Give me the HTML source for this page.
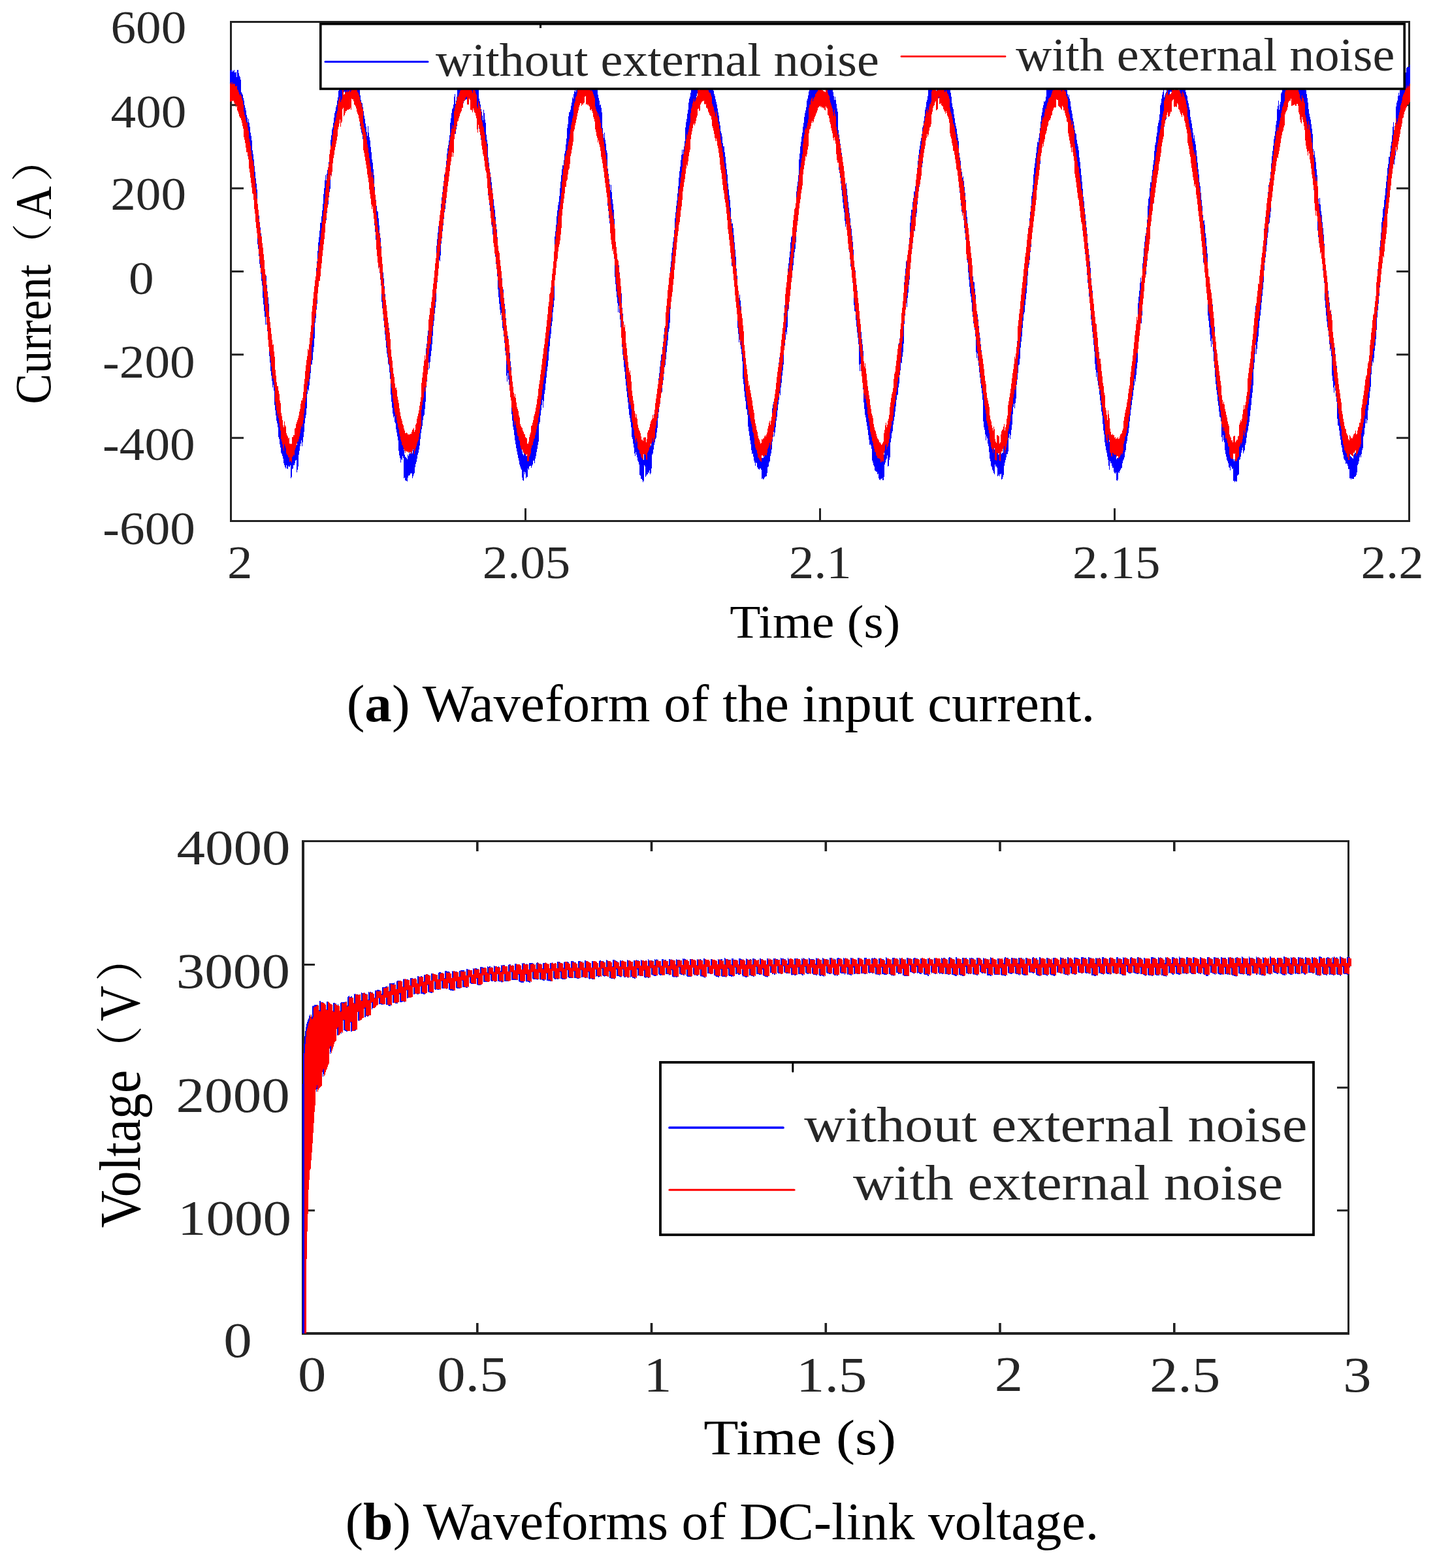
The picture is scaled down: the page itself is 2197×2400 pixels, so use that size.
<!DOCTYPE html><html><head><meta charset="utf-8"><title>figure</title><style>html,body{margin:0;padding:0;background:#fff;overflow:hidden;width:2197px;height:2400px;}svg{display:block}</style></head><body>
<svg width="2197" height="2400" viewBox="0 0 2197 2400">
<rect width="2197" height="2400" fill="#fff"/>
<path fill="#222" d="M352 32H2159V35H352zM352 796H2159V799H352zM352 32H355V799H352zM2156 32H2159V799H2156zM355 668.7H373V671.7H355zM2138 668.7H2156V671.7H2138zM355 541.3H373V544.3H355zM2138 541.3H2156V544.3H2138zM355 414H373V417H355zM2138 414H2156V417H2138zM355 286.7H373V289.7H355zM2138 286.7H2156V289.7H2138zM355 159.3H373V162.3H355zM2138 159.3H2156V162.3H2138zM803 778H806V796H803zM803 35H806V53H803zM1254 778H1257V796H1254zM1254 35H1257V53H1254zM1705 778H1708V796H1705zM1705 35H1708V53H1705zM462 1286H2066V1289H462zM462 2039H2066V2043H462zM462 1286H466V2043H462zM2063 1286H2066V2043H2063zM466 1851.3H482V1854.3H466zM2047 1851.3H2063V1854.3H2047zM466 1663.2H482V1666.2H466zM2047 1663.2H2063V1666.2H2047zM466 1475H482V1478H466zM2047 1475H2063V1478H2047zM729 2025H732.6V2039H729zM729 1289H732.6V1303H729zM995.7 2025H999.3V2039H995.7zM995.7 1289H999.3V1303H995.7zM1262.5 2025H1266.1V2039H1262.5zM1262.5 1289H1266.1V1303H1262.5zM1529.2 2025H1532.8V2039H1529.2zM1529.2 1289H1532.8V1303H1529.2zM1796 2025H1799.6V2039H1796zM1796 1289H1799.6V1303H1796z"/>
<path fill="#0000ff" d="M352.0 108h1v-1h2v3h1v-2h1v1h1v-2h1v4h2v-1h1v8h1v-11h2v5h1v4h1v2h1v4h1v19h1v2h1v2h1v5h1v4h1v7h1v4h1v4h1v7h1v4h1v7h1v-5h1v6h1v6h1v9h1v5h1v7h1v15h1v6h1v8h1v10h1v9h1v10h1v8h1v9h1v22h1v12h1v6h1v10h1v8h1v9h1v11h1v7h1v15h1v14h1v9h1v11h1v10h1v-12h1v14h1v10h1v9h1v10h1v20h1v12h1v11h1v9h1v8h1v10h1v-2h1v6h1v24h1v7h1v12h1v5h1v10h1v7h1v11h1v9h1v8h1v7h1v6h1v7h1v3h1v6h1v3h1v6h1v3h1v5h1v-2h1v2h1v1h1v-2h1v2h2v2h1v16h1v-1h1v-11h1v-4h1v-5h1v-2h1v-4h1v-4h1v-5h1v20h1v-7h1v-4h1v-18h1v-9h1v-5h1v-5h1v-9h1v12h1v-8h1v-9h1v-11h1v-10h1v-12h1v-7h1v-7h1v-25h1v-9h1v1h1v-10h1v-10h1v-11h1v-7h1v-4h1v-9h1v-11h1v-11h1v-11h1v-21h1v-11h1v-13h1v-10h1v-16h1v-13h1v-8h1v-10h1v-12h2v-10h1v-9h1v-10h1v-15h1v-9h1v-12h1v-8h1v8h1v-10h1v-6h1v-4h1v-8h1v-8h1v-10h1v-16h1v-7h1v-9h1v-3h1v-7h1v-8h1v-7h1v-3h1v-6h1v-3h1v-7h1v-5h1v-10h1v-4h1v-5h1v-4h1v-2h1v-5h1v-6h1v-6h1v-3h1v-2h1v21h1v-5h1v2h1v-2h1v-10h1v-1h1v4h1v-2h2v-1h1v-7h2v3h1v10h1v-1h1v4h1v2h1v-12h1v3h1v3h2v5h1v5h1v23h1v7h1v4h1v1h1v6h1v6h1v7h1v5h1v7h1v5h1v8h1v6h1v-15h1v10h1v7h1v5h1v10h1v8h1v11h1v5h1v10h1v9h1v18h1v12h1v8h1v9h1v8h1v1h1v10h1v11h1v12h1v7h1v13h1v22h1v9h1v9h1v9h1v12h1v12h1v11h1v7h1v10h1v9h1v7h1v8h1v10h1v9h1v29h1v7h1v11h1v7h1v10h1v-4h1v9h1v7h1v8h1v5h1v9h1v9h1v18h1v3h1v7h1v8h1v-6h1v5h1v-4h1v2h1v28h1v7h1v3h1v1h1v1h1v2h1v-7h1v2h1v-3h1v-3h1v2h1v-5h2v5h1v-5h1v-2h1v-2h1v-13h1v-6h1v-3h1v-6h1v-5h1v-6h1v-6h1v-7h1v-11h1v-9h1v-6h1v-11h1v-8h1v-7h1v-2h1v-11h1v-7h1v-28h1v-7h1v-12h1v-8h1v-11h1v9h1v-7h1v-13h1v-10h1v-9h1v-11h1v-14h1v-11h1v-12h1v-7h1v-12h1v-22h1v-10h1v-10h1v-10h1v-8h1v-2h1v-7h1v-17h1v-10h1v-8h1v-9h1v-8h1v-10h1v-3h1v-8h1v-10h1v-11h1v-8h1v-5h1v-7h1v-8h1v-19h1v-7h1v-8h1v-6h1v-2h1v-5h1v-12h1v-4h1v15h1v-5h1v-6h1v-11h1v-6h1v-2h1v-14h1v-1h1v-3h1v-4h1v-1h2v16h1v-5h1v3h1v-1h1v-3h1v3h1v-13h2v1h1v-2h1v10h1v2h1v2h1v-1h1v1h1v3h2v1h1v2h1v4h1v-7h1v6h1v3h1v6h1v14h1v4h1v5h1v7h1v4h1v6h1v7h1v-16h1v5h1v10h1v5h1v18h1v8h1v6h1v21h1v8h1v9h1v6h1v7h1v8h1v10h1v7h1v9h1v10h1v6h1v11h1v11h1v8h1v12h1v17h1v12h1v9h1v11h1v9h1v-5h1v10h1v13h1v4h1v13h1v9h1v8h1v14h1v25h1v11h1v-9h1v7h1v12h1v7h1v13h1v9h1v19h1v10h1v9h1v7h1v9h1v6h1v6h1v7h1v10h1v4h1v4h1v8h1v6h1v7h1v2h1v5h1v10h1v4h1v2h1v-7h1v-1h1v4h1v5h2v-2h1v-13h1v-3h1v2h1v-3h1v-4h1v1h1v-3h1v-4h1v-5h1v-5h1v5h1v-4h1v-9h1v-8h1v-6h1v-4h1v-9h1v-24h1v-9h1v-8h1v-10h1v-6h1v-9h1v8h1v-11h1v-9h1v-8h1v-12h1v-8h1v-10h1v-8h1v-9h1v-14h1v-8h1v-12h1v-9h1v-10h1v-9h1v-13h1v-8h1v-14h1v-32h1v-8h1v-10h1v-13h1v-9h1v-8h1v-5h1v-9h1v-12h1v-10h1v-10h1v-9h1v-6h2v-8h1v-10h1v-4h1v-10h1v-9h1v-16h1v-6h1v-12h1v-6h1v-1h1v-3h1v-6h1v-5h1v-8h1v2h1v-7h1v-4h1v-5h1v6h1v-3h1v-5h1v-5h1v-2h2v-10h1v-3h1v-2h1v-1h1v-13h2v1h2v-2h1v-2h1v-1h1v-2h1v2h1v1h1v19h1v4h1v-2h1v2h1v6h1v2h1v4h1v-1h1v-14h1v4h2v5h1v4h1v4h1v14h1v5h1v4h1v7h1v-1h1v5h1v7h1v24h1v9h1v6h1v-8h1v11h1v6h1v10h1v4h1v24h1v8h1v8h1v8h1v9h1v-8h1v11h1v11h1v7h1v9h1v14h1v26h1v13h1v9h1v10h1v10h1v9h1v-6h1v11h1v9h1v12h1v11h1v22h1v9h1v12h1v10h1v10h1v9h1v10h1v8h1v10h1v12h1v8h1v8h1v11h1v7h1v8h1v12h1v7h1v10h1v4h1v8h1v6h1v-5h1v4h1v8h1v4h1v6h1v3h1v17h1v6h1v4h2v2h1v2h1v3h1v-23h1v2h1v13h1v-1h1v-4h1v-2h1v-2h1v-5h1v-2h1v4h1v-2h1v-4h1v-25h1v-6h1v-7h1v-6h1v-3h1v-10h2v-9h1v-7h1v-17h1v-9h1v-8h1v-10h1v-9h1v-9h1v-1h1v-11h1v-8h1v-11h1v-10h1v-3h1v-8h1v-12h1v-9h1v-12h1v-9h1v-8h1v-12h1v-20h1v-9h1v-13h1v-8h1v-9h1v-7h1v-11h1v-18h1v-9h1v-10h1v-8h1v-11h1v-11h1v-13h1v-10h1v-7h1v-10h1v-8h1v-8h1v7h1v-7h1v-5h1v-8h1v-21h1v-8h1v-5h1v-8h1v-6h1v-11h1v-6h1v-3h1v-6h1v-5h1v-6h1v-2h1v-4h1v-2h1v-7h1v-2h1v-6h2v-5h1v-2h1v-1h1v-1h1v20h1v-3h1v-14h2v-2h1v1h1v-3h1v14h2v1h1v-16h1v3h1v-1h1v2h1v8h1v3h1v2h1v4h1v2h1v2h1v4h1v13h1v5h1v3h1v5h1v4h1v4h1v6h1v6h1v5h1v9h1v6h1v9h1v3h1v5h1v10h1v5h2v9h1v7h1v10h1v9h1v8h1v14h1v9h1v9h1v7h1v12h1v17h1v7h2v7h1v11h1v11h1v11h1v11h1v18h1v11h1v18h1v11h1v8h1v-8h1v9h1v11h1v12h1v9h1v29h1v11h1v6h1v12h1v10h1v10h1v3h1v9h1v20h1v5h1v9h1v6h1v8h1v8h1v7h1v1h1v6h1v6h1v9h1v3h1v-4h1v5h1v4h1v4h2v4h1v-4h1v3h1v3h1v16h3v-2h1v-3h2v-3h1v-4h1v-4h1v-11h1v-4h1v-2h1v-6h1v-6h1v-6h1v-8h1v-17h1v-6h1v-4h1v5h1v-10h1v-8h1v-11h1v-8h1v-8h1v-10h1v-10h1v-8h2v-9h1v-10h1v-13h1v-9h1v-12h1v-15h1v-12h1v-12h1v-10h1v6h1v-12h1v-25h1v-11h1v-9h1v-9h1v-14h1v-8h1v-2h1v-9h1v-8h1v-11h1v-9h1v-4h1v-9h1v-18h1v-8h1v-7h1v-10h1v-24h1v-9h1v-11h1v-7h1v-8h1v-6h1v-9h1v-6h1v-9h1v-6h1v-4h1v-5h1v-10h1v-3h1v-5h1v-6h1v-4h1v-5h1v-3h1v-6h1v5h1v-2h1v-5h1v-2h1v4h1v-3h1v1h1v-2h1v2h1v-2h1v-3h1v-1h2v1h1v-18h1v1h1v-4h1v2h1v-3h1v3h1v2h1v1h1v12h2v5h1v2h2v-1h1v5h1v4h1v5h1v5h1v5h1v6h1v6h1v-5h1v5h1v6h1v7h1v5h1v28h1v7h1v7h1v7h1v7h1v7h1v9h1v9h1v6h1v10h1v9h1v8h1v-5h1v9h1v10h1v10h1v9h1v8h1v8h1v11h1v5h1v11h1v9h1v12h1v20h1v10h1v2h1v13h1v9h1v9h1v14h1v10h1v28h1v9h1v-6h1v8h1v11h1v8h1v10h1v22h1v11h1v7h1v9h1v5h1v11h1v4h1v9h1v9h1v7h2v6h1v7h1v15h1v5h1v4h1v6h1v6h1v2h1v2h1v4h1v-1h1v4h1v8h1v2h1v2h1v-3h1v-1h1v1h2v-2h1v-2h1v-24h1v-4h1v-4h1v-5h1v-2h1v16h1v-7h1v-7h1v-5h1v-25h1v-8h1v-4h1v-9h1v-7h1v-11h1v-6h1v-8h1v-10h1v-10h1v-8h1v-4h1v-7h1v-12h1v-7h1v-13h1v-8h1v-1h1v-11h1v-8h1v-10h1v-35h1v-10h1v-11h1v-11h1v5h1v-10h1v-11h1v-10h1v-10h1v-23h1v-11h1v-9h2v-12h1v-6h1v-10h2v-8h1v-9h1v-10h1v-9h1v-11h1v-9h1v-8h1v-6h1v-7h1v-5h1v-6h1v-10h1v-3h1v-7h1v-7h1v-10h1v-4h1v-8h1v-3h1v-6h1v-12h1v-7h1v-1h1v-5h1v-5h1v-4h1v-6h1v-2h2v-1h1v-3h2v-5h1v23h1v-2h2v1h1v-2h1v-14h1v-3h1v1h1v2h1v-1h1v2h1v19h2v2h1v3h1v-7h1v1h1v3h1v6h1v-6h2v18h1v6h1v10h1v6h1v3h1v8h1v6h1v7h1v5h1v4h1v8h1v6h1v5h1v18h1v7h1v5h1v12h1v5h1v9h1v-2h1v7h1v9h1v9h1v11h1v16h1v10h1v10h1v14h1v7h1v10h1v13h1v5h1v11h1v11h1v10h1v8h1v1h1v10h1v9h1v27h1v8h1v-5h1v8h1v10h1v10h1v8h1v10h1v9h1v12h1v8h1v35h1v9h1v7h1v7h1v8h1v-4h1v4h1v9h1v7h1v4h1v14h1v6h1v7h1v5h1v3h1v6h1v2h1v3h1v-13h1v1h1v4h2v14h1v2h1v-1h1v-2h1v-1h2v3h1v-2h2v-7h1v-15h1v-3h1v-8h1v-3h1v-7h1v-2h1v-5h1v-19h1v-10h1v6h1v-8h1v-6h1v-10h1v-19h1v-7h1v-9h1v9h1v-8h1v-10h1v-21h1v-9h1v-13h1v-9h1v-3h1v-9h1v-15h1v-12h1v-10h1v-11h1v-9h1v-11h1v-6h1v-8h1v-11h1v-11h1v-8h1v-18h1v-9h1v-3h1v-12h1v-10h1v-9h1v-15h1v-6h1v-11h1v-16h1v-10h1v-7h1v-8h1v-8h1v-9h1v-8h1v1h1v-7h1v-7h1v-8h1v-10h1v-9h1v-5h1v-7h1v-4h1v-6h1v1h1v-2h1v-6h1v-16h1v-5h1v-2h1v-5h1v-1h1v-3h1v9h1v-3h1v-3h1v-2h1v1h1v-3h3v-2h1v-1h2v-2h1v4h1v-2h1v-2h1v3h2v2h1v3h1v-18h1v2h1v5h1v2h1v23h1v2h1v4h1v6h1v4h1v-3h1v6h1v4h1v8h1v6h1v5h1v7h1v5h1v6h1v7h1v5h1v1h1v9h1v6h1v4h1v6h1v11h1v7h1v10h1v10h1v10h1v11h1v12h1v7h1v11h1v9h1v10h1v10h1v10h1v14h1v9h1v9h1v10h1v10h1v16h1v11h1v8h1v13h1v11h1v9h1v19h1v9h1v11h1v-5h1v10h1v10h1v7h1v10h1v10h1v9h1v6h1v10h1v13h1v11h1v5h1v14h1v5h1v8h1v7h1v5h1v7h1v10h1v7h1v-11h1v5h1v2h1v3h1v2h1v3h1v6h1v5h1v2h1v-3h1v13h1v-2h2v-11h1v-3h1v-4h2v-7h1v-4h1v-3h1v-4h1v-5h1v-5h1v-6h1v-8h1v-6h1v-10h1v-6h1v-5h1v-8h1v-15h1v-8h1v-8h1v-11h1v-6h1v-7h1v-8h1v-12h1v-7h1v1h1v-12h1v-9h1v-11h1v-29h1v-10h1v-9h1v-12h1v-8h1v8h1v-11h1v-19h1v-10h1v-13h1v-10h1v-9h1v-4h1v-9h1v-12h1v-21h1v-11h1v-3h1v-13h1v-9h2v-10h1v-9h1v-8h1v-7h1v-14h1v-9h1v-4h1v-9h1v-6h1v-10h1v-5h1v-4h1v-9h1v-14h1v-3h1v-7h1v-6h1v-4h1v-5h1v13h1v-3h1v-3h1v-2h1v-4h1v-23h1v-2h1v-3h1v-3h1v-2h1v-1h1v2h2v-1h1v8h1v-1h1v-13h1v1h1v-1h1v-1h1v-3h1v2h1v1h1v2h1v19h1v1h1v-7h1v4h1v2h1v8h1v4h1v2h1v4h1v5h1v4h1v2h1v7h1v4h1v6h1v4h1v11h1v5h1v5h1v7h1v7h1v9h1v-5h1v9h1v5h1v9h1v9h1v10h1v10h1v8h1v12h1v6h1v10h1v11h1v9h1v14h1v9h1v-1h1v7h1v13h1v7h1v13h1v11h1v31h1v12h1v10h1v9h1v10h1v10h1v-12h1v8h1v13h1v11h1v10h1v21h1v7h1v10h1v10h1v8h1v11h1v9h1v9h1v-1h1v8h1v27h1v5h1v-6h1v7h1v7h1v11h1v7h1v6h1v6h1v4h1v3h1v7h1v2h1v2h1v-1h1v1h2v1h1v22h1v3h1v-3h1v1h1v-1h1v-3h1v-11h1v-3h1v-1h1v-18h1v-8h1v-5h1v-2h1v-5h1v-6h1v7h1v-5h1v-2h1v-6h1v-8h1v-7h1v-8h1v-7h1v-4h1v-12h1v-9h1v-7h1v-10h1v-10h1v-12h1v-10h1v-25h1v-9h1v-19h1v-10h1v14h1v-11h1v-9h1v-13h1v-9h1v-12h1v-6h1v-13h1v-7h1v-12h1v-8h1v-11h1v-21h1v-7h1v-11h1v-9h1v-12h1v-6h1v-11h1v-11h1v-1h1v-9h1v-10h1v-13h1v-11h1v-8h1v-8h1v-10h1v-5h1v-7h1v-10h1v-6h1v-18h1v-5h1v-8h1v14h1v-8h1v-4h1v-13h1v-2h1v-6h1v-3h1v-6h1v6h1v-2h1v-6h1v-2h1v-1h1v-15h2v-3h1v1h1v-4h1v3h1v-9h1v2h1v-1h2v3h2v8h1v-2h1v3h1v13h1v2h1v3h1v-2h1v5h1v-4h1v3h1v3h1v-1h1v4h1v3h1v-5h1v5h1v2h1v6h1v6h1v7h1v10h1v7h1v5h1v4h1v7h1v7h1v8h1v23h1v9h1v-6h1v10h1v7h1v11h1v9h1v25h1v11h1v8h1v-9h1v10h1v10h1v6h1v11h1v9h1v10h1v14h1v27h1v10h1v11h1v11h1v7h1v6h1v10h1v8h1v13h1v-2h1v7h1v32h1v11h1v11h1v10h1v-13h1v10h1v12h1v6h1v28h1v7h1v6h1v9h1v8h1v7h1v5h1v7h1v8h1v6h1v8h2v3h1v4h1v3h1v2h1v3h1v3h1v6h1v12h1v3h1v1h1v1h1v1h1v1h1v-5h1v-2h1v-2h2v-4h1v-4h1v-15h1v-2h1v-4h1v-7h1v-6h1v2h1v-6h1v-4h1v-7h1v-17h1v-7h1v-8h1v-7h1v-7h1v6h1v-11h1v-16h1v-7h1v-11h1v-7h1v-10h1v-22h1v-9h1v-10h1v5h1v-11h1v-11h1v-9h1v-13h1v-8h1v-22h1v-12h1v-8h1v-11h1v-15h1v-10h1v-12h1v-16h1v-7h1v-13h1v-3h1v-11h1v-7h1v-11h1v-10h1v-9h1v-12h1v-6h1v-11h2v-8h1v-9h1v-6h1v-10h1v-13h1v-7h1v13h1v-7h1v-5h1v-25h1v-6h1v-3h1v-7h1v-5h1v4h1v-8h1v-14h1v-3h1v-3h1v1h1v6h1v-4h1v-1h1v-8h1v-1h1v-7h1v-1h1v-1h1v1h2v-4h1v36h-2v3h-1v-1h-1v3h-1v1h-1v9h-2v10h-1v2h-1v3h-1v-4h-1v-4h-1v5h-1v5h-1v19h-1v2h-1v2h-1v5h-1v5h-1v7h-1v7h-1v24h-1v6h-1v8h-1v-9h-1v7h-1v14h-1v9h-1v6h-1v9h-1v9h-1v1h-1v12h-1v7h-1v12h-1v10h-1v12h-1v6h-1v11h-1v12h-1v2h-1v13h-1v9h-1v14h-1v12h-1v10h-1v13h-1v12h-1v10h-1v11h-1v19h-1v14h-1v10h-1v8h-1v11h-1v7h-1v-2h-1v7h-1v13h-1v19h-1v7h-1v10h-1v11h-1v8h-1v15h-1v5h-1v-7h-1v7h-1v7h-1v10h-1v3h-1v18h-1v3h-1v6h-1v5h-1v-3h-1v3h-1v6h-1v4h-1v2h-1v11h-1v4h-1v2h-1v1h-2v3h-3v-1h-1v2h-1v-2h-2v-14h-2v-5h-1v-3h-1v-1h-1v1h-1v-5h-1v-1h-1v-2h-1v-6h-1v-4h-1v-7h-1v-4h-1v-8h-1v-6h-1v-8h-1v-7h-1v-1h-1v-10h-1v-26h-1v-8h-1v-9h-1v-8h-1v11h-1v-8h-1v-10h-1v-8h-1v-30h-1v-11h-1v3h-1v-10h-1v-12h-1v-9h-1v-5h-1v-9h-1v-9h-1v-12h-1v-11h-1v-27h-1v-10h-1v-9h-1v-13h-1v-8h-1v-8h-1v-11h-1v-7h-1v5h-1v-9h-1v-10h-1v-27h-1v-9h-1v-9h-1v-12h-1v-8h-1v3h-1v-8h-1v-22h-1v-7h-1v-7h-1v-9h-1v-6h-1v-6h-1v-7h-1v-13h-1v-7h-1v-7h-1v-5h-1v-8h-1v-3h-1v5h-1v-7h-1v-2h-1v1h-1v-4h-1v-4h-1v1h-2v-5h-1v-1h-1v-4h-1v-15h-2v-4h-1v-7h-2v-3h-1v1h-1v-1h-2v10h-1v-2h-1v3h-1v2h-1v3h-1v2h-1v15h-1v3h-1v1h-1v8h-1v1h-1v-4h-1v4h-1v5h-1v6h-1v4h-1v16h-1v5h-1v4h-1v-10h-1v8h-1v6h-1v19h-1v8h-1v8h-1v10h-1v6h-1v12h-1v6h-1v11h-1v10h-1v17h-1v9h-1v8h-1v2h-1v13h-1v8h-1v11h-1v10h-1v9h-1v8h-1v12h-1v18h-1v11h-1v10h-1v10h-1v11h-1v9h-1v8h-1v11h-1v13h-1v8h-1v11h-1v8h-1v-14h-1v14h-1v13h-1v10h-1v25h-1v11h-1v8h-1v11h-1v8h-1v9h-1v9h-1v6h-1v7h-1v3h-1v8h-1v8h-1v3h-1v8h-1v2h-1v3h-1v-9h-1v4h-1v4h-1v6h-1v4h-1v1h-1v22h-1v1h-1v1h-1v9h-2v-1h-1v2h-1v-2h-2v-19h-1v1h-1v-3h-1v-2h-1v7h-1v-4h-1v-1h-1v-6h-1v-3h-1v-2h-1v-5h-1v-4h-1v-6h-1v-12h-1v-3h-1v-8h-1v10h-1v-7h-1v-24h-1v-6h-1v-1h-1v-8h-1v-9h-1v-7h-1v-10h-1v-7h-1v-9h-1v-11h-1v-14h-1v-10h-1v-15h-1v-11h-1v-9h-1v13h-1v-9h-1v-10h-1v-11h-1v-10h-1v-8h-1v-32h-1v-11h-1v-13h-1v-7h-1v-10h-1v-12h-1v4h-1v-12h-1v-14h-1v-12h-1v-6h-1v-9h-1v-13h-1v-10h-1v-10h-1v-7h-1v-11h-1v-8h-1v-11h-1v-6h-1v-9h-1v1h-1v-5h-1v-10h-1v-9h-1v-6h-1v-7h-1v-11h-1v-3h-1v-8h-1v-7h-1v-5h-1v-6h-1v-3h-1v-4h-1v-5h-1v-5h-1v-6h-1v-7h-1v-1h-1v-7h-1v5h-1v-1h-1v-17h-1v-5h-1v1h-1v-2h-1v-3h-4v17h-1v-1h-1v-6h-1v1h-1v2h-1v-1h-1v1h-1v5h-1v1h-1v6h-1v4h-1v19h-1v6h-1v2h-1v5h-1v5h-1v-11h-1v5h-1v3h-1v6h-1v10h-1v5h-1v15h-1v9h-1v6h-1v5h-1v9h-1v8h-1v9h-1v7h-1v8h-1v14h-1v10h-1v6h-1v10h-1v9h-1v5h-1v7h-1v11h-1v6h-1v10h-1v23h-1v9h-1v12h-1v4h-1v8h-1v13h-1v8h-1v12h-1v18h-1v12h-1v-12h-1v12h-1v9h-1v12h-1v11h-1v28h-1v9h-1v10h-1v10h-1v-4h-1v10h-1v7h-1v9h-1v6h-1v8h-1v7h-1v9h-1v9h-1v10h-1v8h-1v4h-1v8h-1v4h-1v10h-1v3h-1v8h-1v3h-1v2h-1v4h-1v7h-1v1h-1v2h-1v2h-1v3h-1v-1h-1v11h-1v2h-1v-1h-1v-12h-1v2h-1v-1h-1v-2h-1v-6h-2v-3h-1v-4h-2v-3h-1v13h-1v-6h-1v-9h-1v-5h-1v-6h-1v-4h-1v-6h-1v-6h-1v-12h-1v-6h-1v-10h-1v-13h-1v-6h-1v-10h-1v-7h-1v-9h-1v-9h-1v-5h-1v-7h-1v-13h-1v7h-1v-11h-1v-9h-1v-19h-1v-10h-1v-11h-1v-9h-1v-10h-1v-9h-1v-14h-1v-12h-1v-9h-1v-12h-1v-9h-1v-12h-1v-13h-1v-9h-1v-10h-1v-11h-1v-9h-1v-10h-1v-6h-1v-14h-1v-9h-1v-10h-1v-12h-1v-11h-1v-6h-1v-12h-2v-8h-1v-10h-2v-7h-1v-8h-1v-8h-1v-8h-1v-8h-1v-6h-1v-5h-1v-10h-1v-6h-1v-3h-1v2h-1v-7h-1v-4h-1v-5h-1v-5h-1v-25h-1v-2h-1v-6h-1v1h-1v11h-1v1h-1v-3h-1v-3h-1v-1h-2v-2h-1v-1h-1v1h-1v2h-1v2h-2v3h-2v3h-1v3h-2v5h-1v2h-1v-10h-1v4h-1v3h-1v7h-1v5h-1v3h-1v18h-1v3h-1v5h-1v-2h-1v10h-1v5h-1v9h-1v3h-1v10h-1v14h-1v7h-1v7h-1v9h-1v-1h-1v8h-1v9h-1v8h-1v10h-1v8h-1v9h-1v18h-1v10h-1v8h-1v17h-1v8h-1v12h-1v7h-1v5h-1v12h-1v15h-1v12h-1v9h-1v9h-1v11h-1v3h-1v10h-1v11h-1v13h-1v8h-1v9h-1v17h-1v9h-1v1h-1v12h-1v10h-1v8h-1v21h-1v7h-1v8h-1v-7h-1v5h-1v11h-1v16h-1v8h-1v8h-1v6h-1v-8h-1v6h-1v21h-1v4h-2v5h-1v4h-1v4h-1v5h-1v14h-1v3h-1v3h-1v1h-1v-9h-1v1h-1v3h-1v-3h-1v2h-1v1h-1v-13h-1v-2h-2v-3h-1v15h-1v-2h-1v-3h-1v-2h-1v-4h-1v-2h-1v-7h-1v-4h-1v-10h-1v-9h-1v-4h-1v-8h-1v-3h-1v6h-1v-9h-1v-7h-1v-4h-1v-9h-1v-33h-1v-10h-1v-8h-1v-7h-1v-9h-1v-8h-1v-10h-1v-8h-1v-11h-1v7h-1v-9h-1v-24h-1v-10h-1v-13h-1v3h-1v-10h-1v-8h-1v-14h-1v-9h-1v-5h-1v-10h-1v-11h-1v-11h-1v-15h-1v-7h-1v-13h-1v-15h-1v-10h-1v-8h-1v-12h-1v-11h-1v4h-1v-6h-1v-9h-1v-9h-1v-11h-1v-8h-1v-13h-1v-10h-1v-7h-1v-5h-1v-8h-1v-7h-1v-8h-1v-4h-1v-7h-1v-9h-1v-5h-1v-11h-1v-5h-1v-19h-1v-5h-1v8h-1v-3h-1v-4h-1v-7h-1v8h-1v-4h-2v-3h-1v-18h-1v-1h-1v-3h-2v-3h-1v-1h-1v16h-1v1h-1v-1h-1v-1h-1v2h-1v-18h-1v4h-2v3h-1v5h-1v3h-1v1h-1v9h-1v3h-1v4h-1v4h-1v7h-1v2h-1v16h-1v5h-1v5h-1v9h-1v4h-1v12h-1v6h-1v7h-1v9h-1v6h-1v8h-1v6h-1v8h-1v8h-1v7h-1v10h-1v10h-1v13h-1v6h-1v11h-1v11h-1v-1h-1v7h-1v12h-1v9h-1v1h-1v9h-1v12h-1v25h-1v8h-1v12h-1v8h-1v14h-1v-8h-1v11h-1v10h-1v13h-1v30h-1v13h-1v7h-1v10h-1v-1h-1v12h-1v7h-1v13h-1v6h-1v11h-1v1h-1v7h-1v10h-1v8h-1v8h-1v6h-1v6h-1v10h-1v3h-1v8h-1v6h-1v23h-1v4h-1v9h-1v1h-1v-17h-1v5h-1v2h-1v4h-1v3h-1v19h-1v5h-2v-3h-1v1h-2v2h-1v-1h-1v-2h-1v-7h-1v1h-1v-4h-2v-1h-1v-1h-1v-6h-1v-2h-1v-4h-1v-3h-1v-18h-1v-5h-1v-2h-1v1h-1v-8h-1v-7h-1v-8h-1v-6h-1v-6h-1v-7h-1v-4h-1v-9h-1v-10h-1v-20h-1v-11h-1v-10h-1v-7h-1v-11h-1v11h-1v-10h-1v-31h-1v-10h-1v-8h-1v-9h-1v-10h-1v-13h-1v-1h-1v-9h-1v-24h-1v-10h-1v-10h-1v-10h-1v-5h-1v-11h-1v-11h-1v-4h-1v-12h-1v-10h-1v-8h-1v-9h-1v4h-1v-9h-1v-13h-1v-6h-1v-9h-1v-10h-1v-9h-1v-10h-1v-9h-1v-7h-1v-5h-1v-11h-1v-28h-1v-5h-1v-7h-1v-7h-1v-9h-1v8h-1v-6h-1v-5h-1v-9h-1v-6h-1v-6h-1v-5h-1v-2h-1v-3h-1v-1h-1v-4h-1v-3h-1v-5h-1v-13h-2v-2h-1v-2h-2v-1h-1v2h-1v-2h-1v18h-1v4h-1v2h-1v1h-2v2h-2v3h-1v2h-1v3h-1v-4h-1v4h-1v2h-1v6h-1v-4h-1v6h-1v5h-1v5h-1v6h-1v6h-1v6h-1v5h-1v5h-1v7h-1v9h-1v6h-1v9h-1v8h-1v7h-1v8h-1v8h-1v11h-1v6h-1v12h-1v25h-1v11h-1v4h-1v13h-1v16h-1v10h-1v5h-1v9h-1v11h-1v8h-1v11h-2v9h-1v11h-1v13h-1v10h-1v8h-1v25h-1v11h-1v-4h-1v12h-1v9h-1v7h-1v22h-1v9h-1v8h-1v11h-1v7h-1v12h-1v-3h-1v10h-1v7h-1v9h-1v10h-1v6h-1v10h-1v8h-1v6h-1v-7h-1v8h-1v7h-1v12h-1v6h-1v4h-1v8h-1v2h-1v6h-1v1h-1v9h-1v5h-2v1h-1v1h-1v2h-1v1h-1v-2h-1v1h-1v-14h-1v-2h-2v2h-1v-1h-1v-1h-1v-2h-1v-6h-1v-1h-1v5h-1v-5h-1v-3h-1v-6h-1v-5h-1v1h-1v-6h-1v-9h-1v-6h-1v-7h-1v-7h-1v-7h-1v-18h-1v-8h-1v-1h-1v-12h-1v-6h-1v-9h-1v-11h-1v-8h-1v-27h-1v-11h-1v-8h-1v-9h-1v-14h-1v13h-1v-13h-1v-9h-1v-21h-1v-10h-1v-16h-1v-11h-1v-9h-1v-13h-1v-10h-1v-9h-1v4h-1v-11h-1v-15h-1v-13h-1v-8h-1v-10h-1v-10h-1v-15h-1v-9h-1v-6h-1v-13h-1v-6h-1v-9h-2v-9h-1v-8h-1v-6h-1v-6h-1v-10h-1v-8h-1v-7h-1v-7h-1v-7h-1v-5h-1v-6h-1v-7h-1v-3h-1v-5h-1v-6h-1v-14h-1v-4h-1v-4h-1v-1h-1v-4h-1v-5h-2v-9h-1v-6h-2v-3h-1v17h-1v-2h-2v-14h-1v1h-2v1h-1v-1h-1v17h-1v2h-1v-18h-1v3h-1v3h-1v2h-1v4h-1v4h-1v3h-1v5h-1v4h-1v6h-1v6h-1v6h-1v4h-1v2h-1v7h-1v9h-1v3h-1v13h-1v7h-1v7h-1v7h-1v10h-1v19h-1v8h-1v7h-1v9h-1v-9h-1v9h-1v12h-1v9h-1v7h-1v10h-1v18h-1v10h-1v11h-1v5h-1v12h-1v8h-1v18h-1v12h-1v8h-1v6h-1v13h-1v8h-1v10h-1v24h-1v9h-1v5h-1v13h-1v8h-1v10h-1v11h-1v9h-1v3h-1v10h-1v10h-1v7h-1v11h-1v-1h-1v9h-1v10h-1v5h-1v8h-1v9h-1v15h-1v7h-1v8h-1v2h-1v5h-1v4h-1v7h-1v6h-1v2h-1v21h-1v7h-1v2h-1v-6h-1v4h-1v-1h-1v3h-2v2h-1v2h-1v-16h-1v-2h-1v24h-1v2h-1v-3h-1v-2h-2v-5h-1v-1h-1v-16h-1v-4h-1v-2h-1v-5h-1v-4h-1v-4h-1v6h-1v-4h-1v-9h-1v-6h-1v-7h-1v-3h-1v-15h-1v-8h-1v-6h-1v-5h-1v-9h-1v-10h-1v-8h-1v-9h-1v-9h-1v-10h-1v-11h-1v-7h-1v-11h-1v-8h-1v-12h-1v-21h-1v-9h-1v-12h-1v-10h-1v-11h-1v10h-1v-14h-1v-9h-1v-9h-1v-11h-1v-11h-1v-28h-1v-10h-1v-13h-1v-7h-1v-11h-1v-9h-1v5h-1v-9h-1v-8h-1v-11h-1v-8h-1v-19h-1v-12h-1v-7h-1v-7h-1v-10h-1v3h-1v-8h-1v-6h-1v-24h-1v-8h-1v-6h-2v-8h-1v-7h-1v-5h-1v-14h-1v-6h-1v-3h-1v-4h-1v-7h-1v-2h-1v15h-1v-4h-1v-1h-1v-4h-1v-5h-1v-4h-2v-3h-1v-21h-2v-2h-1v-1h-2v4h-1v1h-1v1h-1v4h-1v-2h-1v16h-2v2h-1v5h-1v8h-1v5h-1v1h-1v4h-1v4h-1v6h-1v-4h-1v7h-1v5h-1v7h-1v-1h-1v5h-1v9h-1v4h-1v9h-2v6h-1v12h-1v6h-1v22h-1v6h-1v9h-1v8h-1v6h-1v11h-2v10h-1v9h-1v9h-1v8h-1v13h-1v10h-1v3h-1v10h-1v10h-1v14h-1v8h-1v10h-1v35h-1v10h-1v8h-1v14h-1v7h-1v12h-1v7h-1v12h-1v8h-1v14h-1v9h-1v7h-1v10h-1v9h-1v10h-1v6h-1v11h-1v10h-1v-12h-1v8h-1v8h-1v8h-1v10h-1v3h-1v27h-1v5h-1v6h-1v5h-1v6h-1v4h-1v7h-1v-4h-2v6h-1v2h-1v3h-1v-3h-2v1h-1v5h-1v-2h-1v13h-2v2h-1v-9h-1v3h-1v-4h-1v14h-1v-1h-1v-4h-1v-12h-1v-2h-1v-3h-1v-3h-1v-6h-1v-4h-1v-5h-1v-5h-1v-5h-1v-6h-1v-6h-1v-8h-1v-8h-1v-5h-1v-9h-1v-10h-1v-21h-1v-6h-1v-10h-1v-8h-1v-8h-1v-10h-1v13h-1v-9h-1v-31h-1v-7h-1v-12h-1v-10h-1v-9h-1v-4h-1v-12h-1v-11h-1v3h-1v-8h-1v-9h-1v-10h-1v-12h-1v-20h-1v-11h-1v-8h-1v-11h-1v-7h-1v-13h-1v-5h-1v-9h-1v-12h-1v-7h-1v-10h-1v-7h-1v-9h-1v-10h-1v-5h-1v-22h-1v-8h-1v-9h-1v-18h-1v-8h-1v-8h-1v-7h-1v16h-1v-8h-1v-7h-1v-6h-1v-7h-1v-7h-1v-3h-1v-16h-1v-7h-1v-4h-1v-3h-1v2h-1v-3h-1v-5h-1v-2h-2v-3h-2v-4h-1v1h-1v-3h-1v-13h-1v2h-3v13h-2v1h-1v1h-1v1h-1v3h-1v-15h-1v1h-1v3h-1v4h-1v2h-1v4h-1v15h-1v5h-1v3h-1v13h-1v5h-1v7h-1v-16h-1v8h-1v11h-1v6h-1v5h-1v6h-1v6h-1v10h-1v18h-1v11h-1v7h-1v8h-1v8h-1v9h-1v9h-1v9h-1v5h-1v10h-1v10h-1v9h-1v11h-1v8h-1v18h-1v9h-1v-2h-1v10h-1v13h-1v11h-1v10h-1v20h-1v9h-1v9h-1v11h-1v8h-1v15h-1v13h-1v10h-1v8h-1v9h-1v10h-1v-9h-1v11h-1v7h-1v11h-1v9h-1v22h-1v11h-1v9h-1v2h-1v6h-1v9h-1v5h-1v6h-1v9h-1v10h-1v6h-1v5h-1v3h-1v6h-1v5h-1v3h-1v5h-1v9h-1v2h-1v3h-1v3h-1v-7h-1v-1h-1v1h-1v2h-1v1h-2v3h-1v6h-1v-1h-2v-1h-1v-4h-1v1h-1v-31h-1v-3h-1v6h-1v-1h-1v5h-1v-7h-1v-4h-1v-7h-1v-16h-1v-6h-1v-6h-1v-5h-1v-9h-1v-2h-1v-9h-1v2h-1v-6h-1v-9h-1v-9h-1v-11h-1v-24h-1v-10h-1v-11h-1v-2h-1v-10h-1v-6h-1v-9h-1v-11h-1v-9h-1v-11h-1v-10h-1v-10h-1v-9h-1v-10h-1v-25h-1v-9h-1v-10h-1v-9h-1v-12h-1v-11h-2v-11h-1v-8h-1v-12h-1v-10h-1v-16h-1v-10h-1v-9h-1v-9h-1v-10h-1v-9h-1v-9h-1v-10h-1v-9h-1v-5h-1v10h-1v-7h-1v-9h-1v-7h-1v-7h-1v-5h-1v-6h-1v-5h-1v-7h-1v-3h-1v-5h-1v-5h-1v-28h-1v-4h-1v-6h-1v-4h-1v-1h-1v-3h-1v10h-1v-5h-1v-2h-2v-15h-1v-1h-2v7h-1v1h-1v1h-1v-1h-1v-1h-1v2h-1v11h-1v-1h-1v2h-1v3h-1v-18h-1v1h-1v7h-1v3h-1v10h-1v4h-1v5h-1v2h-1v8h-1v2h-1v11h-1v7h-1v7h-1v5h-1v7h-1v5h-1v6h-1v7h-1v8h-1v7h-1v10h-1v6h-1v21h-1v5h-1v8h-1v11h-1v5h-1v8h-1v11h-1v-9h-1v8h-1v9h-1v10h-1v19h-1v9h-1v10h-1v9h-1v2h-1v11h-1v12h-1v8h-1v13h-1v17h-1v9h-1v13h-1v7h-1v24h-1v13h-1v8h-1v12h-1v7h-2v13h-1v9h-1v10h-1v8h-1v-2h-1v7h-1v22h-1v10h-1v5h-1v8h-1v13h-1v8h-1v8h-1v6h-1v-9h-1v5h-1v4h-1v7h-1v6h-1v18h-1v5h-1v4h-1v-19h-1v1h-1v4h-1v3h-2v5h-1v1h-1v12h-1v2h-1v-20h-1v2h-1v1h-1v-2h-1v5h-1v-1h-1v-5h-1v5h-1v-2h-1v-3h-1v-3h-1v-7h-1v-4h-1v-3h-1v-2h-1v-8h-1v-5h-1v-8h-1v-3h-1v-15h-1v-6h-1v-4h-1v-8h-1v-8h-1v-8h-1v-22h-1v-9h-1v4h-1v-10h-1v-8h-1v-7h-1v-13h-1v-10h-1v-19h-1v-9h-1v-10h-1v-10h-1v-12h-1v12h-1v-12h-1v-9h-1v-10h-1v-10h-1v-19h-1v-7h-1v-11h-1v-9h-1v-6h-1v-12h-1v-11h-1v-7h-1v-23h-1v-8h-1v-12h-1v-9h-1v-10h-1v-10h-1v-7h-1v-11h-1v-11h-1v-9h-1v-9h-1v-6h-1v-8h-1v-6h-1v4h-1v-6h-1v-5h-1v-11h-1v-5h-1v-3h-1v-6h-1v-8h-1v-4h-1v-4h-1v-4h-1v-20h-1v-3h-1v-5h-1v-4h-1v-3h-1v-5h-1v12h-1v-8h-1v-2h-1v-1h-1v-2h-6v2h-1z"/>
<path fill="#ff0000" d="M352.0 128h1v-2h1v3h1v-3h1v3h1v-1h2v1h1v3h2v-1h1v6h1v1h1v3h1v3h1v2h1v-2h1v3h1v4h1v3h1v6h1v11h1v5h1v3h1v5h1v4h1v-1h1v8h1v5h1v12h1v5h1v6h1v8h1v8h1v6h1v2h1v7h1v16h1v6h1v11h1v8h1v9h1v8h1v9h1v14h1v7h1v10h1v9h1v1h1v10h1v7h1v10h1v9h1v14h1v8h1v10h1v11h1v8h1v17h1v11h1v10h1v6h1v9h1v9h1v9h1v8h1v-1h1v11h1v8h1v20h1v9h1v10h1v6h2v7h1v5h1v10h1v4h1v15h1v5h1v6h1v8h1v3h1v-9h1v6h1v2h1v10h1v3h1v2h1v3h1v-1h1v9h2v1h1v-1h1v-10h2v-3h2v-10h1v-1h1v-6h1v-3h1v-3h1v-3h1v-4h1v-6h1v-4h1v-8h1v-5h2v-4h1v-9h1v-12h1v-8h1v-12h1v-9h1v-8h1v-6h1v-11h1v2h1v-9h1v-10h1v-9h1v-10h1v-21h1v-9h1v-11h1v-10h1v-9h1v-9h1v-6h1v-8h1v-12h1v-7h1v-9h1v-12h1v2h1v-10h1v-10h1v-8h1v-10h1v-8h1v-8h1v-11h1v-8h1v-13h1v-10h1v-7h1v-6h1v-11h1v-6h1v-15h1v-7h1v-7h1v2h1v-7h1v-11h1v-7h1v-7h1v-4h1v-3h1v-5h1v-6h1v-4h1v-11h1v-5h1v-3h1v-3h1v8h1v-3h1v-2h1v-18h1v-1h1v13h1v-1h1v-2h1v-2h1v1h1v-3h1v3h1v-1h1v-1h1v-1h1v3h1v-2h1v-16h1v1h3v5h2v4h1v2h1v2h1v4h1v1h1v3h1v3h1v6h1v2h1v3h1v5h1v3h1v22h1v6h1v2h1v5h1v4h1v8h1v7h1v5h1v8h1v8h1v8h1v5h1v8h1v8h1v-7h1v9h1v8h1v10h1v7h1v9h1v22h1v10h1v9h1v8h1v-4h1v8h1v11h1v9h1v13h1v11h1v21h1v9h1v8h1v12h1v5h1v8h1v9h1v10h1v9h1v10h1v4h1v10h1v16h1v11h1v6h1v11h1v9h1v5h1v10h1v7h1v-1h1v4h1v10h1v5h1v5h1v8h1v6h1v6h1v4h1v3h1v5h1v2h1v5h1v3h1v4h2v-1h1v1h1v2h4v-1h2v-3h1v-3h1v-1h1v-2h1v6h1v-3h1v-8h1v-2h1v-7h1v-4h1v-4h1v-5h1v-7h1v-6h1v-7h1v-22h1v-8h1v-8h1v-10h1v-8h1v-8h1v6h1v-8h1v-11h1v-9h1v-9h1v-24h1v-7h1v-11h1v1h1v-10h1v-7h1v-12h1v-9h1v-9h1v-11h1v-11h1v-8h1v-8h1v-12h1v-8h1v-9h1v-20h1v-9h1v-7h1v-4h1v-11h1v-10h1v-7h1v-11h1v-8h1v-7h1v-7h1v-5h1v-9h1v-6h1v-6h1v-8h1v-6h1v-8h1v-6h1v-6h1v-6h1v6h1v-5h1v-22h1v-5h1v-4h1v-5h1v-3h1v-5h2v-3h1v-3h1v-3h1v-1h1v-2h1v-1h1v-1h1v-6h1v-4h1v-1h1v1h1v-1h2v9h1v1h1v-1h1v-9h1v1h1v13h2v2h1v3h1v-9h1v1h1v4h1v1h1v4h1v2h1v18h1v3h1v-11h1v3h1v4h1v3h1v5h1v14h1v3h1v6h1v2h1v7h1v5h1v9h1v1h1v7h1v17h1v7h1v7h1v4h1v7h1v17h1v8h1v-3h1v9h1v21h1v8h1v9h1v3h1v9h1v9h1v9h1v11h1v8h1v3h1v11h1v9h1v8h1v13h1v11h1v9h1v9h1v11h1v12h1v10h1v8h1v9h1v11h1v1h1v9h1v21h1v11h1v7h1v8h1v9h1v8h1v9h1v6h1v-4h1v6h1v7h1v7h1v3h1v3h1v7h1v3h1v10h1v3h1v2h1v1h1v4h1v2h1v3h1v1h1v4h1v1h1v1h1v8h2v-3h1v-7h1v-4h1v-3h1v-10h1v-1h1v-4h1v-4h1v-6h1v-3h1v-4h1v-6h1v-5h1v-8h1v-5h1v-11h1v-7h1v-6h1v-9h1v-7h1v-8h1v-9h1v-7h1v-9h1v-6h1v-9h1v-9h1v-9h1v-10h1v-9h1v-12h1v-7h1v-12h1v-2h1v-8h1v-11h1v-10h1v-8h1v-11h1v-15h1v-11h1v-8h1v-11h1v-8h1v-5h1v-11h1v-7h1v-4h1v-7h1v-8h1v-10h1v-17h1v-10h1v-9h1v-7h1v-7h1v-6h1v-2h1v-6h1v-2h1v-6h1v-6h1v-4h1v-8h1v-7h1v-7h1v-4h1v-6h1v-4h1v-14h1v-5h1v-3h1v-6h1v-2h1v-4h1v-7h1v-2h1v-1h1v-3h1v-1h1v-3h1v7h1v-2h1v1h2v-2h1v-8h1v2h1v10h2v-1h1v1h1v1h1v1h1v2h1v1h1v-1h1v1h1v2h1v3h1v3h1v3h1v13h1v4h1v3h1v2h1v5h1v-3h1v5h1v4h1v5h1v8h1v1h1v7h1v7h1v6h1v7h1v7h1v6h1v7h1v10h1v8h1v7h1v9h1v8h1v17h1v10h1v8h1v9h1v-5h1v11h1v7h1v7h1v20h1v8h1v10h1v9h1v2h1v10h1v10h1v7h1v12h1v26h1v9h1v10h1v10h1v8h1v-4h1v10h1v18h1v8h1v11h1v10h1v9h1v7h1v-3h1v7h1v10h1v14h1v8h1v7h1v5h1v11h1v4h1v6h1v-5h1v7h1v9h1v5h1v3h1v2h1v3h1v5h1v5h2v2h1v-5h1v-1h1v1h1v-1h1v8h1v-5h1v-10h1v-3h1v-1h1v-4h1v-5h1v-4h1v-2h1v-2h1v-6h1v5h1v-5h1v-8h1v-10h1v-7h1v-7h1v-8h1v-7h1v-6h1v-5h1v-6h1v-11h1v-7h1v-8h1v-10h1v-10h1v-7h1v-10h1v-9h1v-21h1v-10h1v-11h1v-13h1v-8h1v-11h1v-7h1v-2h1v-7h1v-8h1v-10h1v-9h1v-11h1v-13h1v-9h1v-9h1v-14h1v-7h1v-9h1v-9h1v-11h1v-2h1v-8h1v-9h1v-7h1v-8h1v-13h1v-6h1v-5h1v-8h1v-5h1v-6h1v-8h1v2h1v-5h1v-4h1v-6h1v-4h1v-15h1v-7h1v-3h1v-5h1v-3h1v-4h1v5h1v-2h1v-3h1v-2h1v-2h1v-11h1v1h1v1h1v-1h1v-8h4v-1h1v1h1v2h2v1h1v3h1v2h2v1h1v3h1v1h2v3h1v3h1v11h1v3h1v2h1v5h1v3h1v6h1v-8h1v4h1v6h1v7h1v3h1v7h1v9h1v8h1v6h1v6h1v7h1v7h1v8h1v7h1v4h1v8h1v10h1v8h1v14h1v8h1v9h1v8h1v8h1v8h1v6h1v10h1v7h1v9h1v10h1v16h1v8h1v9h1v12h1v10h1v8h1v11h1v11h1v8h1v-6h1v11h1v7h1v11h1v9h1v21h1v9h1v11h1v10h1v7h1v8h1v10h1v8h1v-2h1v8h1v5h1v6h1v5h1v8h1v6h1v5h1v10h1v6h1v4h1v6h1v3h1v6h1v4h1v2h1v3h1v3h1v-1h1v-6h1v1h1v-2h2v-3h1v-2h1v2h1v-3h1v-3h1v-6h1v-4h1v-5h1v-3h1v6h1v-6h1v-6h1v-6h1v-5h1v-10h1v-7h1v-7h1v-7h1v-10h1v-9h1v-8h1v-7h1v-5h1v-8h1v-9h1v-10h1v-10h1v-9h1v-9h1v-9h1v-10h1v-12h1v-21h1v-10h1v-8h1v-11h1v-10h1v5h1v-10h1v-8h1v-9h1v-9h1v-10h1v-22h1v-11h1v-8h1v-9h1v-2h1v-7h1v-9h1v-9h1v-7h1v-8h1v-11h1v-7h1v-4h1v-7h1v-7h1v-6h1v-16h1v-8h1v-6h1v-7h1v-3h1v1h1v-4h1v-5h1v-5h1v-18h1v-5h2v-6h1v-3h1v-2h1v6h1v-4h1v-2h1v-1h1v-4h1v-1h1v-2h1v-1h1v-3h1v-2h1v-2h2v2h1v1h1v2h2v1h1v1h2v1h1v-9h1v2h1v1h1v7h1v3h1v2h1v6h1v4h1v3h1v3h1v3h1v5h1v6h1v-9h1v6h1v4h1v16h1v6h1v7h1v-3h1v7h1v5h1v6h1v7h1v8h1v3h1v8h1v6h1v8h1v10h1v10h1v8h1v10h1v10h1v9h1v7h1v7h1v8h1v8h1v11h1v8h1v10h1v12h1v9h1v10h1v7h1v10h1v11h1v10h1v9h1v8h1v12h1v12h1v8h1v21h1v9h1v10h1v9h1v8h1v8h1v-5h1v8h1v8h1v10h1v9h1v7h1v7h1v6h1v9h1v6h1v7h1v3h1v4h1v9h1v5h1v4h1v2h1v4h1v4h1v3h1v1h1v2h1v3h2v2h1v2h1v-1h1v-2h1v-2h1v-13h1v-5h1v-7h1v-4h1v7h1v-4h1v-6h1v-3h1v-6h1v-12h1v-7h1v-7h1v-6h1v-3h1v-6h1v-14h1v-8h1v-3h1v-9h1v-8h1v-9h1v-9h1v-7h1v1h1v-9h1v-15h1v-9h1v-16h1v-8h1v-10h1v-13h1v-12h1v-8h1v-9h1v-9h1v-12h1v-8h1v-7h1v-8h1v-9h1v-11h1v-9h1v-10h1v-11h1v-8h1v-10h1v-9h1v4h1v-10h1v-17h1v-9h1v-7h1v-7h1v-9h1v-8h1v1h1v-8h1v-7h1v-13h1v-7h1v-5h1v-7h1v-3h1v-6h1v-6h1v-4h1v-4h1v6h1v-4h1v-5h1v-4h2v-3h1v-16h1v-3h1v-5h1v-2h1v-2h1v-1h1v-2h1v14h2v-1h1v-14h1v-1h1v7h3v1h2v1h1v4h1v2h1v3h1v-1h1v-2h1v2h1v3h1v1h1v3h1v4h1v14h1v6h1v3h1v4h1v5h1v6h1v2h1v4h1v7h1v4h1v8h1v1h1v7h1v5h1v11h1v7h1v8h1v7h1v9h1v8h1v-3h1v10h1v8h1v8h1v9h1v26h1v7h2v7h1v10h1v10h1v8h1v10h1v8h1v11h1v23h1v8h1v12h1v-3h1v12h1v7h1v11h1v9h1v7h1v10h1v11h1v9h1v8h1v8h1v5h1v6h1v8h1v8h1v10h1v8h1v5h1v13h1v8h1v4h1v5h1v5h1v13h1v6h1v3h1v6h1v4h1v4h1v-6h1v4h1v15h1v4h1v2h1v-12h2v1h1v1h1v11h1v-2h1v-12h1v-5h1v-2h1v-1h1v-4h1v-4h1v10h1v-5h1v-4h1v-9h1v-5h1v-16h1v-6h1v-6h1v-6h1v-7h1v-8h1v-8h1v-8h1v-6h1v-8h1v-11h1v3h1v-8h1v-10h1v-7h1v-25h1v-9h1v-10h1v-7h1v-12h1v-10h1v-10h1v-9h1v-9h1v-11h1v-9h1v-10h1v-6h1v-9h1v-11h1v-9h1v-8h1v-3h1v-9h1v-9h1v-11h1v-5h1v-9h1v-9h1v-6h1v-8h1v-10h1v-6h1v-9h1v-15h1v-6h1v-6h1v-7h1v-7h1v-15h1v-5h1v-6h1v-5h1v-5h1v2h1v-3h1v-6h1v-6h1v1h1v-5h1v-4h1v-2h1v-5h1v-1h1v-1h1v-1h1v-3h1v-3h1v-3h1v-1h2v-2h1v-1h1v1h1v-10h1v-1h1v1h1v10h1v-1h1v1h2v1h1v3h1v-8h1v2h2v4h1v2h2v6h1v2h1v3h1v15h1v6h1v3h1v6h1v3h1v7h1v-6h1v5h1v6h1v4h1v20h1v7h1v7h1v6h1v7h1v7h1v2h1v9h1v7h1v9h1v9h1v2h1v6h1v11h1v8h1v7h1v11h1v9h1v9h1v8h1v15h1v7h1v12h1v13h1v10h1v10h1v10h1v10h1v9h1v8h1v11h1v9h1v10h1v1h1v12h1v9h1v14h1v10h1v9h1v-1h1v8h1v11h1v8h1v10h1v5h1v10h1v4h1v19h1v4h1v7h1v8h1v-15h1v6h1v6h1v16h1v5h1v4h1v1h1v-2h1v2h2v4h1v-1h1v3h1v-1h2v-2h1v3h1v-1h1v-3h1v-3h1v-1h1v-1h1v-4h1v-3h1v-12h1v-6h1v-6h1v-5h1v-4h1v-7h1v-5h1v-9h1v-7h1v-5h1v-13h1v-8h1v-9h1v-7h1v-9h1v-10h1v-10h1v-11h1v-7h1v-10h1v-11h1v5h1v-9h1v-9h1v-11h1v-10h1v-8h1v-12h1v-9h1v-11h1v-8h1v-11h1v-14h1v-8h1v-11h1v-8h1v-10h1v-8h1v-4h1v-9h1v-8h1v-19h1v-7h1v-7h1v-10h1v-7h1v-2h1v-7h1v-6h1v-8h1v-6h1v-8h1v-6h1v-5h1v-7h1v-4h1v-5h1v-6h1v-8h1v-5h1v-5h1v-4h1v-16h1v-3h1v-5h1v-3h1v-1h1v-5h1v9h1v-2h4v-2h1v-17h1v-2h2v13h1v2h1v-1h2v-1h1v-6h1v1h1v7h2v2h1v3h2v5h1v-8h1v2h1v2h1v4h1v3h1v3h1v6h1v5h1v14h1v4h1v6h1v6h1v3h1v5h1v7h1v8h1v6h1v6h1v6h1v-3h1v5h1v9h1v9h1v7h1v9h1v7h1v8h1v7h1v13h1v8h1v8h1v10h1v9h1v9h1v11h1v10h1v10h1v12h1v7h1v10h1v12h1v1h1v10h1v9h1v5h1v9h1v11h1v9h1v10h1v21h1v7h1v8h1v12h1v6h1v11h1v7h1v9h1v7h1v8h1v7h1v15h1v7h1v6h1v-3h1v4h1v7h1v4h1v5h1v4h1v6h1v4h1v3h1v13h1v3h1v2h1v4h2v3h1v-9h1v-1h2v10h1v-2h1v-2h2v-5h1v-1h1v-17h1v-3h1v-4h1v2h1v-4h1v-7h1v-7h1v-7h1v6h1v-6h1v-5h1v-9h1v-6h1v-21h1v-8h1v-8h1v-7h1v-7h1v-11h1v-9h1v-9h1v-9h1v-13h1v-11h1v-8h1v-4h1v-11h1v-10h1v-9h1v-11h1v1h1v-13h1v-9h1v-8h1v-11h1v-7h1v-10h1v-9h1v-16h1v-10h1v-9h1v-11h1v-11h1v-8h1v-7h1v-10h1v-7h1v-3h1v-9h1v-9h1v-8h1v-5h1v-8h1v-8h1v-10h1v-4h1v-9h1v-5h1v-6h1v5h1v-5h1v-5h1v-5h1v-5h1v-7h1v-4h1v-5h1v-2h1v-4h1v-3h1v-14h1v-3h2v-3h1v-4h1v-2h1v-3h1v-1h1v-1h1v-1h1v10h1v1h1v-2h1v1h1v1h1v-1h1v1h2v-6h1v2h1v2h1v9h1v3h1v6h1v2h1v3h1v-9h1v4h2v5h1v3h1v18h1v4h1v6h1v4h1v7h1v-12h1v6h1v8h1v4h1v8h1v7h1v10h1v5h1v9h1v20h1v8h1v7h1v-6h1v6h1v8h1v24h1v6h1v11h1v7h1v-3h1v11h1v7h1v11h1v10h1v7h1v19h1v10h1v9h1v8h1v10h1v18h1v9h1v10h1v9h1v-4h1v8h1v8h1v18h1v9h1v8h1v11h1v8h1v9h1v10h1v7h1v9h1v9h1v8h1v6h1v8h1v6h1v13h1v5h1v7h1v5h1v6h1v4h1v1h1v6h1v2h1v2h1v5h1v2h1v-8h1v2h1v3h1v-1h1v1h1v-3h1v-3h1v-1h1v-1h1v-4h1v6h1v-1h1v-5h1v-5h1v-1h1v-6h2v-6h1v-17h1v-5h1v-8h1v-6h1v-7h1v-8h1v-9h1v-5h1v-2h1v-10h1v-8h1v-3h1v-9h1v-16h1v-8h1v-11h1v-7h1v-12h1v-8h1v-2h1v-10h1v-9h1v-8h1v-21h1v-9h1v-9h1v-13h1v-9h1v-9h1v-6h1v-11h1v-10h1v-8h1v-9h1v-1h1v-7h1v-10h1v-8h1v-9h1v-9h1v-20h1v-9h1v-8h1v-7h1v-11h1v-6h1v-7h1v-8h1v-5h1v-8h1v-7h1v-5h1v-6h1v-7h1v9h1v-4h1v-5h1v-5h1v-4h1v-4h1v-7h1v-3h1v-4h1v-6h1v-3h1v-2h1v-2h1v-5h2v-2h1v-3h1v3h1v-3h1v1h1v-4h1v28h-1v2h-1v2h-2v1h-1v3h-1v2h-1v3h-1v2h-1v4h-1v5h-1v1h-1v8h-1v5h-1v4h-1v7h-1v5h-1v6h-1v5h-1v8h-1v3h-1v-7h-1v5h-1v9h-1v4h-1v8h-1v7h-1v8h-1v7h-1v11h-1v7h-1v11h-1v8h-1v9h-1v8h-1v21h-1v10h-1v8h-1v7h-1v12h-1v9h-1v-2h-1v11h-1v8h-1v9h-1v12h-1v5h-1v12h-1v10h-1v9h-1v9h-1v10h-1v20h-1v8h-1v9h-1v9h-1v1h-1v9h-1v8h-1v10h-1v10h-1v7h-1v15h-1v7h-1v3h-1v10h-1v6h-1v1h-1v6h-1v10h-1v5h-1v6h-1v6h-1v5h-1v5h-1v17h-1v4h-1v1h-1v3h-1v3h-1v3h-1v1h-1v3h-1v-9h-1v2h-1v2h-2v5h-2v-1h-1v-1h-1v-1h-2v9h-2v-5h-1v1h-1v-6h-1v-1h-1v-3h-1v-1h-1v-6h-1v-3h-1v-6h-1v-6h-1v-11h-1v-5h-1v-5h-1v-6h-1v-8h-1v-8h-1v-8h-1v-8h-1v-7h-1v-8h-1v-10h-1v-7h-1v-10h-1v-8h-1v-16h-1v-9h-1v-9h-1v7h-1v-11h-1v-8h-1v-9h-1v-15h-1v-11h-1v-11h-1v-8h-1v-10h-1v-18h-1v-6h-1v-13h-1v-8h-1v-8h-1v-10h-1v2h-1v-9h-1v-8h-1v-11h-1v-21h-1v-8h-1v-8h-1v7h-1v-8h-1v-11h-1v-21h-1v-7h-1v-10h-1v-6h-1v-9h-1v-8h-1v-6h-1v-9h-1v-4h-1v7h-1v-6h-1v-4h-1v-5h-1v-8h-1v-16h-1v-6h-1v-6h-1v-4h-1v-4h-1v10h-1v-2h-1v-4h-1v-8h-1v-3h-1v-10h-1v-3h-2v3h-2v-2h-2v1h-2v1h-2v-11h-1v3h-2v1h-1v2h-1v7h-1v4h-1v2h-1v2h-1v3h-1v17h-1v3h-1v5h-1v2h-1v5h-1v5h-1v7h-1v6h-1v6h-1v5h-1v6h-1v-1h-1v6h-1v7h-1v8h-1v5h-1v9h-1v8h-1v9h-1v9h-1v6h-1v10h-1v7h-1v4h-1v11h-1v8h-1v8h-1v9h-1v8h-1v16h-1v10h-1v7h-1v17h-1v8h-1v10h-1v9h-1v10h-1v7h-1v10h-1v10h-1v2h-1v11h-1v8h-1v9h-1v8h-1v7h-1v9h-1v9h-1v13h-1v7h-1v11h-1v8h-1v6h-1v9h-1v7h-1v7h-1v6h-1v19h-1v6h-1v6h-1v7h-1v6h-1v-9h-1v7h-1v6h-1v5h-1v3h-1v-2h-1v4h-1v2h-1v15h-1v1h-1v2h-1v3h-1v1h-2v-12h-1v1h-1v-1h-1v9h-1v-1h-3v-2h-1v-4h-1v-12h-1v-1h-1v-5h-1v-4h-1v-3h-2v-8h-1v-3h-1v-6h-1v6h-1v-6h-1v-5h-1v-13h-1v-8h-1v-7h-1v-8h-1v-6h-1v-7h-1v-8h-1v-9h-1v-9h-1v-8h-1v-8h-1v-21h-1v-6h-1v-10h-1v-8h-1v-11h-1v-4h-1v-11h-1v-7h-1v-3h-1v-11h-1v-7h-1v-10h-1v-10h-1v-14h-1v-8h-1v-12h-1v-10h-1v-7h-1v-10h-1v-9h-1v-11h-1v-9h-1v-10h-1v-8h-1v-8h-1v-10h-1v-9h-1v-6h-1v-11h-1v-5h-1v3h-1v-9h-1v-5h-1v-8h-1v-6h-1v-7h-1v-10h-1v-4h-1v-8h-1v-5h-1v-4h-1v-15h-1v-6h-1v-4h-1v-6h-1v-3h-1v-7h-1v-2h-1v-3h-1v6h-1v-3h-1v-2h-1v-3h-1v-3h-1v-1h-1v-7h-1v-2h-1v6h-1v-1h-2v1h-1v-1h-1v-11h-1v1h-1v2h-1v16h-2v3h-1v4h-2v1h-1v-7h-1v4h-1v4h-1v2h-1v7h-1v4h-1v16h-1v4h-1v5h-1v6h-1v10h-1v6h-1v7h-1v4h-1v10h-1v6h-1v5h-1v8h-1v7h-1v8h-1v7h-1v9h-2v12h-1v6h-1v10h-1v7h-1v20h-1v8h-1v10h-1v4h-1v9h-1v9h-1v9h-1v10h-1v8h-1v13h-1v11h-1v9h-1v10h-1v11h-1v8h-1v10h-1v9h-1v9h-1v11h-1v7h-1v-1h-1v8h-1v9h-1v7h-1v10h-1v9h-1v11h-1v6h-1v8h-1v6h-1v10h-1v10h-1v4h-1v8h-1v7h-1v5h-1v5h-1v4h-1v2h-1v6h-1v4h-1v11h-1v4h-1v2h-1v-2h-1v3h-1v3h-2v2h-1v-4h-2v1h-1v-3h-4v-2h-1v-1h-1v6h-1v-1h-1v-5h-2v-19h-1v-3h-1v-6h-1v13h-1v-4h-1v-4h-1v-5h-1v-16h-1v-8h-1v-4h-1v-7h-1v-7h-1v-6h-1v-11h-1v-9h-1v1h-1v-6h-1v-9h-1v-15h-1v-10h-1v-10h-1v-2h-1v-9h-1v-9h-1v-9h-1v-8h-1v-11h-1v-9h-1v-9h-1v-9h-1v-9h-1v-15h-1v-9h-1v-12h-1v-10h-1v-12h-1v-7h-1v-12h-1v-6h-1v-11h-1v-8h-1v-10h-1v-9h-1v-3h-1v-7h-1v-10h-1v-8h-1v-9h-1v-3h-1v-8h-1v-8h-1v-8h-1v-7h-1v-6h-1v-20h-1v-7h-1v-6h-1v-8h-1v8h-1v-7h-1v-6h-1v-5h-1v-6h-1v-5h-1v-17h-1v-1h-1v-6h-1v-3h-1v-4h-1v-4h-2v-5h-1v-2h-1v6h-1v-1h-1v-2h-1v-1h-1v-1h-1v-1h-1v-9h-2v-1h-1v12h-1v1h-1v-1h-1v1h-1v3h-1v2h-1v6h-1v1h-1v4h-1v3h-2v2h-1v6h-1v2h-1v6h-1v4h-1v2h-1v7h-1v4h-1v7h-1v-4h-1v6h-1v8h-1v5h-1v7h-1v14h-1v9h-1v6h-1v8h-1v8h-1v15h-1v8h-1v9h-1v8h-1v8h-1v9h-1v8h-1v10h-1v8h-1v10h-1v8h-1v10h-1v2h-1v11h-1v7h-1v12h-1v7h-1v8h-1v11h-1v8h-1v10h-1v8h-1v11h-1v11h-1v8h-1v9h-1v9h-1v9h-1v7h-1v22h-1v11h-1v8h-1v6h-1v-1h-1v7h-1v6h-1v10h-1v4h-1v7h-1v6h-1v9h-1v5h-1v6h-1v4h-1v14h-1v5h-1v6h-1v4h-1v5h-1v-11h-1v4h-2v4h-2v2h-1v13h-1v-1h-1v-11h-3v-1h-1v12h-1v-1h-2v-18h-2v7h-1v-5h-1v-1h-1v-3h-1v-7h-1v-4h-1v-10h-1v-5h-1v-6h-1v-4h-1v-4h-1v-11h-1v-6h-1v-6h-1v-10h-1v-7h-1v-6h-1v-8h-1v-2h-1v-8h-1v-8h-1v-10h-1v-7h-1v-10h-1v-8h-1v-8h-1v-9h-1v-9h-1v-9h-1v-1h-1v-9h-1v-10h-1v-23h-1v-9h-1v-9h-1v-8h-1v-9h-1v-9h-1v-10h-1v-9h-1v2h-1v-9h-1v-26h-1v-11h-1v-7h-1v-10h-1v-10h-1v4h-1v-8h-1v-10h-1v-6h-1v-12h-1v-7h-1v-8h-1v-9h-1v-8h-1v-2h-1v-9h-1v-6h-1v-7h-1v-6h-2v-8h-1v-4h-1v-7h-1v-3h-1v-5h-1v-16h-1v-6h-1v-3h-1v-2h-1v-4h-1v-3h-1v4h-1v-3h-1v-2h-1v-2h-1v-4h-1v-1h-1v-1h-1v-3h-1v1h-2v-11h-1v3h-1v16h-1v1h-1v1h-1v-14h-1v2h-1v4h-1v1h-1v3h-1v6h-1v4h-1v15h-1v4h-1v1h-1v5h-1v6h-1v3h-1v-4h-1v6h-1v4h-1v8h-1v5h-1v6h-1v7h-1v6h-1v6h-1v16h-1v6h-1v7h-1v2h-1v8h-1v10h-1v6h-1v11h-1v6h-1v21h-1v7h-1v-2h-1v12h-1v8h-1v9h-1v9h-1v13h-1v10h-1v10h-1v7h-1v9h-1v5h-1v10h-1v11h-1v10h-1v7h-1v10h-1v8h-1v16h-1v8h-1v9h-1v16h-1v7h-1v15h-1v8h-1v-1h-1v7h-1v9h-1v7h-1v6h-1v9h-1v4h-1v6h-1v11h-1v8h-1v1h-1v7h-1v4h-1v6h-1v10h-1v6h-1v5h-1v1h-1v4h-1v-8h-1v2h-1v8h-1v3h-1v13h-1v1h-1v-2h-1v2h-1v1h-1v-5h-1v-1h-2v-1h-2v-3h-1v-1h-1v-5h-2v-5h-1v-4h-1v-5h-1v-3h-1v-6h-1v-4h-1v-4h-1v-9h-1v-7h-1v-5h-1v-6h-1v-11h-1v-6h-1v-6h-1v-6h-1v5h-1v-8h-1v-8h-1v-8h-1v-10h-1v-9h-1v-21h-1v-8h-1v-9h-1v-11h-1v-9h-1v-9h-1v-11h-1v-7h-1v-9h-1v-10h-1v-7h-1v-10h-1v-14h-1v-7h-1v-12h-1v-9h-1v-8h-1v-11h-1v-4h-1v-8h-1v-12h-1v-9h-1v-9h-1v-8h-1v-13h-1v-8h-1v-9h-1v-7h-1v-8h-1v-6h-1v-7h-1v-8h-1v-6h-1v-7h-1v-7h-2v-4h-1v-9h-1v-16h-1v-5h-1v-5h-1v5h-1v-4h-1v-7h-1v-4h-1v-4h-1v-6h-1v-3h-1v-6h-1v-4h-1v-1h-1v-10h-1v-1h-1v-2h-1v6h-1v-1h-1v-3h-1v1h-1v-2h-1v1h-1v-2h-1v1h-1v-2h-1v1h-1v1h-1v1h-1v4h-1v3h-1v2h-1v3h-1v2h-1v3h-1v4h-1v2h-1v-3h-1v3h-1v5h-1v4h-1v1h-1v6h-1v20h-1v5h-1v7h-1v4h-1v-1h-1v7h-1v7h-1v6h-1v8h-1v17h-1v6h-1v6h-1v9h-1v6h-1v8h-1v10h-1v8h-1v8h-1v8h-1v9h-1v10h-1v2h-1v9h-1v10h-1v10h-1v21h-1v8h-1v11h-1v10h-1v9h-1v11h-1v-7h-1v9h-1v10h-1v9h-1v11h-1v20h-1v11h-1v7h-1v12h-1v7h-1v8h-1v10h-1v11h-1v8h-1v8h-1v2h-1v6h-1v9h-1v6h-1v11h-1v6h-1v6h-1v6h-1v6h-1v7h-1v4h-1v5h-1v6h-1v-9h-1v4h-1v3h-1v2h-1v6h-1v4h-2v-1h-1v2h-2v1h-1v-2h-2v10h-1v-1h-1v-1h-1v-2h-1v-2h-1v-1h-1v-6h-1v-5h-1v-1h-1v-3h-1v-5h-1v-10h-1v-7h-1v-2h-1v-7h-1v-5h-1v-4h-1v-5h-1v-6h-1v2h-1v-9h-1v-7h-1v-7h-1v-7h-1v-8h-1v-12h-1v-9h-1v-20h-1v-10h-1v-7h-1v-9h-1v-9h-1v6h-1v-8h-1v-10h-1v-9h-1v-10h-1v-10h-1v-10h-1v-9h-1v-10h-1v-13h-1v-10h-1v-10h-1v-11h-1v-6h-1v-8h-1v-7h-1v-11h-1v-9h-1v-9h-1v-7h-1v-14h-1v-10h-1v-10h-1v-7h-1v-5h-1v-9h-1v-5h-1v-8h-1v-9h-1v-9h-1v-5h-1v-8h-1v-11h-1v-7h-1v-7h-1v-4h-1v-7h-1v-4h-1v4h-1v-5h-1v-6h-1v-5h-1v-4h-1v-3h-1v-10h-1v-5h-1v-1h-1v-1h-1v-3h-1v-2h-1v-4h-1v-2h-2v-6h-1v1h-1v-1h-1v-5h-1v1h-2v1h-1v2h-1v2h-1v9h-1v1h-1v-4h-1v1h-1v10h-1v3h-1v5h-1v4h-1v3h-1v-3h-1v2h-1v5h-1v5h-1v5h-1v7h-1v16h-1v4h-1v6h-1v8h-1v7h-1v-2h-1v6h-1v8h-1v8h-1v5h-1v7h-1v7h-1v13h-1v10h-1v6h-1v10h-1v8h-1v4h-1v10h-1v7h-1v10h-1v11h-1v10h-1v11h-1v10h-1v14h-1v9h-1v11h-1v7h-1v8h-1v11h-1v-3h-1v10h-1v10h-1v11h-1v12h-1v8h-1v8h-1v22h-1v8h-1v11h-1v7h-1v10h-1v7h-1v8h-1v7h-1v8h-1v6h-1v3h-1v7h-1v6h-1v5h-1v7h-1v5h-1v14h-1v4h-1v3h-1v-6h-1v5h-1v3h-2v5h-1v1h-1v4h-1v2h-1v2h-1v11h-1v-1h-1v-7h-2v-1h-2v9h-1v-2h-1v-1h-1v-2h-1v-4h-1v-1h-1v-5h-1v-1h-1v-2h-1v-10h-1v-5h-1v7h-1v-5h-1v-6h-1v-9h-1v-3h-1v-8h-1v-4h-1v-17h-1v-6h-1v-5h-1v4h-1v-10h-1v-8h-1v-7h-1v-10h-1v-10h-1v-16h-1v-9h-1v4h-1v-8h-1v-11h-1v-7h-1v-10h-1v-27h-1v-8h-1v-9h-1v-11h-1v-7h-1v-3h-1v-9h-1v-9h-1v-11h-1v-17h-1v-11h-1v-6h-1v-8h-1v3h-1v-10h-1v-7h-1v-10h-1v-19h-1v-9h-1v-9h-1v-9h-1v-9h-1v-7h-1v-8h-1v-7h-1v-8h-1v-9h-1v-6h-1v-7h-1v-6h-1v-4h-1v-9h-1v-6h-1v-4h-1v-6h-1v3h-1v-7h-1v-3h-1v-6h-1v-4h-1v-12h-1v-4h-1v-3h-1v-6h-1v-3h-1v-3h-1v2h-1v-1h-1v-5h-1v-1h-1v-2h-1v1h-1v-2h-1v1h-1v-13h-1v1h-1v9h-1v1h-1v2h-2v2h-1v-4h-2v3h-1v3h-1v5h-1v4h-1v5h-1v5h-1v5h-1v4h-1v6h-1v3h-1v16h-1v6h-1v6h-1v6h-1v4h-1v12h-1v7h-1v2h-1v7h-1v8h-1v2h-1v9h-2v10h-1v8h-1v7h-1v9h-1v10h-1v19h-1v10h-1v9h-1v6h-1v4h-1v7h-1v11h-1v4h-1v10h-1v11h-1v8h-1v9h-1v18h-1v10h-1v8h-1v12h-1v8h-1v8h-1v4h-1v8h-1v9h-1v8h-1v13h-1v8h-1v9h-1v9h-1v6h-1v6h-1v6h-1v8h-1v9h-1v6h-1v8h-1v7h-1v7h-1v6h-1v8h-1v5h-1v5h-1v5h-1v4h-1v5h-1v1h-1v4h-1v5h-1v1h-1v4h-1v8h-1v3h-1v2h-1v7h-3v-11h-1v2h-1v-1h-1v-1h-1v-1h-1v-1h-1v-2h-1v-3h-2v-2h-1v-4h-1v-7h-1v-2h-1v-5h-1v-1h-1v-5h-1v-7h-1v-5h-1v-5h-1v6h-1v-8h-1v-7h-1v-6h-1v-6h-1v-11h-1v-5h-1v-10h-1v-23h-1v-8h-2v-9h-1v-6h-1v-12h-1v-8h-1v-11h-1v-9h-1v-12h-1v-8h-1v-9h-1v-13h-1v-8h-1v-12h-1v-9h-1v-1h-1v-11h-1v-10h-1v-8h-1v-9h-1v-12h-1v-2h-1v-10h-1v-6h-1v-23h-1v-9h-1v4h-1v-10h-1v-16h-1v-7h-1v-5h-1v-9h-1v-9h-1v-15h-1v-9h-1v-3h-1v-6h-1v-9h-1v-7h-1v-3h-1v-7h-1v-6h-1v-11h-1v-6h-1v-4h-1v-6h-1v-5h-1v12h-1v-5h-1v-17h-1v-4h-1v-4h-1v-1h-1v-3h-1v-3h-1v6h-1v-3h-1v-1h-2v-15h-1v-2h-1v9h-3v-12h-1v1h-1v2h-1v3h-2v3h-1v8h-2v5h-1v2h-1v2h-1v4h-1v3h-1v4h-1v1h-1v5h-1v4h-1v6h-1v4h-1v8h-1v21h-1v6h-1v-7h-1v7h-1v7h-1v6h-1v9h-1v8h-1v8h-1v7h-1v9h-1v9h-1v3h-1v8h-1v9h-1v10h-1v9h-1v9h-1v12h-1v6h-1v6h-1v10h-1v8h-1v18h-1v11h-1v8h-1v12h-1v7h-1v10h-1v9h-1v14h-1v8h-1v8h-1v9h-1v9h-1v11h-1v-1h-1v7h-1v9h-1v21h-1v10h-1v9h-1v9h-1v8h-1v-6h-1v7h-1v9h-1v4h-1v7h-1v7h-1v26h-1v4h-1v6h-1v6h-1v5h-1v2h-1v3h-1v4h-1v3h-1v4h-1v5h-1v-8h-1v1h-1v2h-1v2h-1v3h-1v-3h-3v1h-1v-2h-1v1h-1v-1h-1v-1h-1v3h-1v-3h-1v-2h-1v-3h-1v-3h-1v-1h-1v-5h-1v-3h-1v-5h-1v-4h-1v-7h-1v-3h-1v-6h-1v-5h-1v-8h-1v3h-1v-7h-1v-6h-1v-8h-1v-7h-1v-8h-1v-8h-1v-7h-1v-18h-1v-11h-1v-1h-1v-10h-1v-7h-1v-10h-1v-8h-1v-11h-1v-5h-1v-8h-1v-11h-1v-7h-1v-20h-1v-10h-1v-15h-1v-9h-1v-9h-1v-9h-1v3h-1v-9h-1v-10h-1v-10h-1v-22h-1v-9h-1v-9h-1v-7h-1v-9h-1v-10h-1v4h-1v-7h-1v-9h-1v-7h-1v-7h-1v-11h-1v-7h-1v-5h-1v-9h-1v-6h-1v-6h-1v-6h-1v-6h-1v-4h-1v-22h-1v-6h-1v-4h-1v-3h-1v-6h-1v-3h-1v-5h-1v-5h-1v-2h-1v-3h-1v-5h-1v-3h-1v-2h-1v-1h-1v-5h-1v-3h-2v-1h-1v17h-1v-3h-1v2h-2v1h-3v2h-2v3h-1v3h-1v2h-1v-13h-1v2h-1v19h-1v2h-1v6h-1v-11h-1v6h-1v5h-1v4h-1v11h-1v6h-1v5h-1v5h-1v5h-1v7h-1v5h-1v8h-1v13h-1v7h-1v-3h-1v8h-1v10h-1v15h-1v7h-1v11h-1v6h-1v10h-1v8h-1v14h-1v10h-1v8h-1v9h-1v9h-1v11h-1v8h-1v12h-1v7h-2v9h-1v10h-1v10h-1v9h-1v12h-1v4h-1v9h-1v8h-1v10h-1v10h-1v7h-1v24h-1v8h-1v9h-1v9h-1v7h-1v-2h-1v8h-1v9h-1v9h-1v7h-1v9h-1v8h-1v10h-1v6h-1v5h-1v-2h-1v5h-1v6h-1v5h-1v4h-1v4h-2v3h-1v4h-1v3h-1v3h-1v8h-1v-1h-1v3h-2v9h-1v-2h-2v1h-1v-7h-2v-3h-1v-1h-1v-2h-1v-8h-1v-3h-1v-3h-1v10h-1v-4h-1v-6h-1v-4h-1v-4h-1v-13h-1v-6h-1v-6h-1v-7h-1v-7h-1v4h-1v-9h-1v-7h-1v-6h-1v-22h-1v-8h-1v-6h-1v1h-1v-10h-1v-9h-1v-9h-1v-8h-1v-6h-1v-7h-1v-11h-1v-15h-1v-11h-1v-9h-1v-8h-1v-10h-1v-12h-1v-9h-1v-10h-1v-9h-1v-9h-1v-1h-1v-12h-1v-8h-1v-8h-1v-14h-1v-10h-1v-8h-1v-8h-1v-9h-1v-13h-1v-7h-1v-14h-1v-9h-1v-1h-1v-9h-1v-7h-1v-8h-1v-8h-1v-6h-1v-14h-1v-6h-1v-5h-2v-7h-1v-7h-1v-5h-1v-4h-1v-13h-1v-4h-1v-5h-1v-4h-1v-3h-1v-1h-1v-2h-1v-4h-1v-3h-1v-2h-1v-8h-1v3h-1v-5h-1v1h-1v-3h-1v-3h-1v1h-1v-1h-1v1h-2v1h-1z"/>
<path fill="#0000ff" d="M463.0 1659h1v-47h1v-15h1v-11h1v-8h1v-6h1v-5h1v-3h1v-3h1v-2h1v-4h1v-2h1v6h1v-2h1v-1h1v-16h1v-1h1v1h1v-2h4v1h1v8h2v-1h1v-14h2v2h4v1h1v2h1v9h3v-13h2v1h2v1h1v2h2v8h1v1h1v2h1v-13h3v1h2v2h1v1h1v-2h1v9h1v2h2v-13h1v-1h6v-1h1v8h2v-2h1v-13h1v-1h1v-1h1v2h2v-1h2v8h1v1h1v1h1v-14h1v1h1v-1h1v1h3v1h2v9h2v1h1v-14h1v1h3v1h4v9h3v-12h1v1h2v-1h1v1h3v7h2v1h1v-11h3v-1h4v1h1v6h1v-1h2v-10h5v-1h2v-1h1v9h1v-1h2v-12h7v-1h1v9h1v1h2v-12h1v-1h6v9h2v1h1v-12h1v-1h1v1h6v9h3v-11h4v1h3v-1h1v7h1v2h2v-12h2v1h3v-1h2v8h3v-10h3v-1h3v1h2v8h2v1h1v-11h2v1h4v1h2v8h3v-11h1v-1h3v1h2v1h1v8h1v-1h2v-11h3v1h4v1h1v7h1v2h2v-11h1v1h2v-1h1v1h4v8h1v1h2v-10h2v-1h6v8h3v-10h2v1h3v1h2v6h1v1h2v-10h1v1h2v-1h3v1h2v7h2v-1h1v-9h4v1h3v1h1v6h3v-9h1v1h2v-1h2v2h1v-1h1v7h3v-9h1v1h4v1h2v-1h1v7h3v-9h1v1h1v-1h4v2h2v7h2v1h1v-10h1v-1h3v2h3v6h2v1h1v-10h3v1h5v7h1v2h2v-11h1v1h1v-1h2v1h1v1h2v-1h1v8h2v1h1v-10h6v1h2v8h1v1h2v-10h1v-1h1v1h2v1h3v7h3v-8h6v1h2v8h1v-1h2v-8h3v-1h1v2h4v7h1v1h2v-11h4v1h1v1h2v7h1v1h1v1h1v-10h1v-1h2v1h2v-1h2v1h1v8h2v1h1v-11h4v1h1v1h3v8h1v1h2v-11h4v1h3v9h3v-11h2v1h3v1h1v1h2v7h1v1h2v-10h3v1h1v-1h1v1h3v8h2v1h1v-10h1v-1h2v1h4v1h1v8h1v1h1v-1h1v-11h1v1h2v1h1v1h1v-1h2v7h1v1h2v-10h3v1h2v1h2v1h1v8h3v-10h2v1h1v-1h1v2h4v7h2v1h1v-11h1v1h4v1h1v1h1v7h2v1h1v-10h3v1h1v-2h1v1h3v9h2v1h1v-11h1v1h4v1h3v7h1v1h1v-1h1v-10h1v2h2v1h1v-1h3v7h1v2h2v-11h1v1h2v-1h1v1h2v2h2v7h3v-10h3v2h1v-1h1v1h1v-1h1v2h1v7h2v-1h1v-9h2v1h1v-1h1v1h3v1h1v7h1v1h2v-10h1v1h5v1h1v6h2v1h1v-10h1v1h1v-1h1v1h2v1h3v7h1v1h1v1h1v-10h5v1h1v1h2v7h3v-9h1v1h3v-1h2v1h1v7h2v2h1v-11h2v1h2v2h3v-1h1v7h2v2h1v-10h2v1h3v1h3v7h2v1h1v-10h1v1h3v-1h3v8h3v-10h1v1h1v1h1v1h1v-1h2v1h2v7h1v1h2v-10h3v2h3v1h2v7h1v-1h1v1h1v-10h3v1h2v1h1v1h2v7h2v-1h1v-9h1v1h2v1h3v-1h1v8h3v-9h3v1h2v1h1v1h2v7h3v-10h2v1h3v1h1v1h2v5h1v1h2v-9h2v2h2v-2h1v1h1v2h1v7h2v-1h1v-9h4v1h3v1h1v7h1v1h1v-1h1v-10h1v1h4v1h3v7h3v-9h1v2h6v7h1v2h1v-1h1v-9h6v1h2v8h1v-1h1v1h1v-9h1v1h1v-2h1v1h2v1h1v1h2v7h3v-10h1v1h1v1h6v7h3v-9h1v1h3v1h2v1h1v6h1v1h2v-10h1v1h2v1h5v8h1v1h2v-11h4v1h1v2h1v-2h1v1h1v8h1v1h2v-10h1v-1h3v1h3v9h1v-1h1v1h1v-10h1v1h2v-1h1v1h2v1h2v8h3v-10h2v2h1v-2h1v2h3v1h1v6h1v1h2v-10h3v2h4v8h3v-10h4v2h3v-1h1v9h1v-1h1v1h1v-9h1v-1h1v1h2v-1h2v1h1v2h1v7h3v-9h5v1h3v7h1v1h1v-1h1v-10h1v1h1v1h1v1h2v1h1v-1h1v7h3v-9h4v1h4v9h2v1h1v-11h1v1h2v1h1v-1h1v1h3v7h1v1h2v-10h2v1h5v7h1v2h2v-9h1v-1h3v1h3v1h1v7h1v1h2v-9h7v1h1v7h2v1h1v-9h2v-1h1v1h1v1h3v8h2v-1h1v-9h1v1h7v7h1v2h2v-10h1v1h2v-1h3v1h1v2h1v7h3v-10h1v-1h2v1h1v1h2v1h2v8h2v-1h1v-10h2v2h1v1h4v8h3v-10h3v1h1v1h1v-2h2v2h1v6h2v2h1v-10h1v1h1v-1h3v1h2v2h1v6h3v-9h5v1h2v8h1v1h2v-10h1v1h4v1h3v6h3v-9h1v1h3v2h4v7h1v-1h1v2h1v-9h5v1h2v7h1v1h1v-2h1v-7h1v-2h2v1h4v2h1v7h3v-9h2v1h2v-1h1v1h3v7h3v-8h2v1h1v-1h3v2h1v-1h1v7h1v1h2v-9h3v1h2v1h1v-1h1v7h1v1h2v-9h1v-1h2v2h2v1h1v-2h1v1h1v8h3v-10h2v1h1v1h2v-1h1v1h1v1h1v7h2v1h1v-10h3v1h2v1h2v7h3v-9h5v1h1v1h2v7h1v-1h1v2h1v-11h1v1h3v1h2v1h2v6h3v-9h2v1h1v1h2v1h2v7h3v-9h1v-1h1v1h4v1h2v7h1v1h2v-10h4v1h4v8h1v1h1v1h1v-11h2v1h3v1h2v1h1v8h3v-10h1v1h1v-1h1v1h2v-1h2v9h3v-10h3v1h1v1h3v1h1v7h1v1h2v-10h3v1h3v1h2v7h2v-1h1v-9h3v2h4v6h1v1h2v-9h1v1h5v1h2v7h1v1h2v-9h1v-1h2v2h5v7h1v1h2v-10h3v2h1v-1h2v1h1v7h2v1h1v-9h2v1h6v7h1v1h2v-10h4v1h3v2h1v7h1v1h1v-1h1v-10h1v1h2v-1h1v1h2v1h2v8h2v-1h1v-9h1v1h4v1h2v7h3v-9h3v1h2v1h1v1h1v-2h1v8h3v-10h1v2h5v2h2v7h2v1h1v-11h3v1h3v2h1v5h1v1h2v-9h3v1h3v1h1v1h1v7h1v-1h1v1h1v-10h2v1h2v1h3v1h1v7h3v-10h4v1h1v1h2v8h2v1h1v-11h3v1h2v1h1v-1h2v9h3v-10h2v1h6v8h1v2h2v-11h1v1h2v-1h1v1h4v8h1v1h1v1h1v-10h2v-1h2v2h1v1h1v-1h1v7h1v1h2v-11h1v1h1v1h2v1h4v7h3v-10h1v2h5v1h2v7h2v2h1v-12h1v2h2v-1h1v1h2v1h1v8h3v-10h1v1h3v1h3v1h1v7h2v1h1v-12h2v2h1v1h1v-1h3v1h1v7h2v2h1v-10h4v1h2v-1h1v8h3v-10h2v2h6v8h1v1h2v-10h1v1h2v1h2v-1h3v8h1v1h2v-10h2v1h1v-1h1v1h4v9h2v-1h1v-9h2v1h5v8h1v1h2v-10h2v1h6v9h2v-1h1v-10h3v1h2v2h3v8h1v1h2v-10h2v-1h2v1h2v1h1v8h3v-10h1v1h1v-2h1v1h1v1h2v-1h1v1h1v7h1v2h2v-11h2v1h1v1h3v1h2v8h1v-1h2v-9h1v1h1v-2h1v1h2v15h2v0h-2v1h-1v-1h-2v13h-1v-1h-1v-1h-5v-1h-1v-10h-1v-1h-2v15h-1v-1h-1v-1h-4v-1h-1v-11h-1v-1h-2v14h-2v-1h-3v-1h-1v1h-2v-11h-1v-1h-2v13h-2v-1h-4v-1h-1v-1h-1v-10h-1v1h-1v-1h-1v14h-1v-1h-4v-1h-2v-11h-3v9h-2v-1h-6v-12h-3v14h-1v1h-2v-1h-1v-1h-1v-1h-1v1h-2v-11h-2v-1h-1v13h-3v-1h-2v1h-1v-1h-1v-11h-1v-1h-2v14h-4v-1h-2v-1h-2v-10h-1v-1h-2v14h-2v-1h-1v1h-1v-1h-1v-1h-2v-1h-1v-11h-3v12h-2v-1h-2v-1h-3v-1h-1v-10h-1v-2h-2v15h-1v1h-1v-1h-2v-1h-3v-10h-3v14h-1v-1h-4v-1h-3v-10h-3v10h-2v-2h-6v-11h-3v15h-1v-1h-4v-2h-2v-10h-3v11h-1v-1h-5v-1h-2v-10h-1v-1h-2v16h-1v-1h-3v-1h-3v-1h-1v-10h-1v1h-1v-2h-1v11h-1v-1h-1v1h-1v-1h-4v-10h-1v-2h-2v13h-1v-1h-1v1h-3v-1h-2v-1h-1v-11h-1v1h-2v12h-1v-1h-2v-1h-2v-1h-3v-10h-1v-1h-1v1h-1v15h-4v-2h-3v-1h-1v-9h-1v-1h-2v10h-2v-1h-3v-1h-2v-11h-3v13h-5v-1h-1v-1h-2v-10h-3v12h-2v-1h-6v-10h-1v-1h-1v1h-1v12h-3v-1h-3v-1h-1v-10h-1v-1h-2v13h-2v-1h-1v-1h-2v-1h-2v1h-1v-11h-3v16h-1v-1h-4v-1h-3v-11h-3v11h-5v-1h-2v-11h-2v-1h-1v14h-2v-1h-5v-1h-1v-10h-3v12h-1v-1h-1v-1h-2v-1h-4v-10h-2v-1h-1v11h-3v-1h-3v-1h-2v-10h-2v-2h-1v13h-4v-1h-1v-1h-2v-9h-2v-1h-1v15h-4v-1h-1v-1h-3v-10h-1v-1h-2v11h-3v-1h-2v-1h-1v1h-1v-1h-1v-10h-3v13h-1v-2h-1v1h-3v-1h-2v-12h-1v1h-2v13h-1v-1h-3v-1h-2v-1h-1v1h-1v-10h-2v-2h-1v15h-1v1h-3v-1h-4v-11h-3v9h-1v-1h-1v-1h-1v1h-3v-1h-1v-10h-1v-1h-1v-1h-1v13h-3v-1h-4v-1h-1v-10h-3v14h-2v-1h-3v-1h-3v-9h-2v-1h-1v13h-2v-1h-4v-1h-2v-9h-1v-1h-2v9h-2v-1h-3v-1h-1v1h-1v-10h-3v15h-2v-1h-2v-1h-1v1h-1v-1h-1v-1h-1v-10h-1v1h-2v12h-1v-1h-2v-1h-5v-11h-3v13h-2v-1h-1v1h-1v-1h-1v-1h-2v-9h-1v-1h-2v8h-2v-1h-2v-1h-1v1h-2v-1h-1v-10h-2v-1h-1v16h-5v-1h-2v-1h-1v-9h-2v-1h-1v12h-1v-1h-1v-1h-4v-1h-1v-10h-3v10h-2v1h-2v-1h-3v-1h-1v-10h-1v-1h-2v16h-2v-1h-5v-1h-1v-10h-1v-1h-2v11h-7v-2h-1v-10h-2v1h-1v13h-2v-1h-5v-10h-1v-2h-2v9h-2v-1h-1v1h-2v-1h-1v-1h-2v-10h-2v-1h-1v16h-2v-1h-3v-1h-1v1h-1v-1h-1v-11h-3v11h-1v-1h-1v1h-2v-1h-3v-10h-2v-1h-1v15h-3v-1h-3v-1h-2v-10h-3v12h-3v-1h-2v-1h-3v-11h-3v11h-3v-1h-4v-10h-2v-1h-1v11h-2v-1h-3v1h-1v-2h-2v-9h-1v-1h-2v12h-2v-1h-2v-1h-2v1h-1v-2h-1v-10h-2v1h-1v15h-2v-2h-5v-1h-1v-11h-2v1h-1v10h-3v-1h-1v-1h-2v1h-1v-10h-1v-1h-2v11h-3v-1h-2v-1h-3v-10h-1v-1h-2v17h-6v-1h-2v-10h-1v-1h-2v9h-1v-1h-1v1h-2v-2h-3v-10h-3v15h-1v-1h-4v-1h-1v-1h-2v-10h-3v11h-5v-1h-3v-10h-1v-1h-1v-1h-1v14h-1v-1h-3v-1h-1v1h-1v-1h-1v-10h-2v-1h-1v10h-2v-1h-3v1h-1v-1h-2v-11h-2v-1h-1v14h-3v-1h-5v-11h-1v1h-1v-2h-1v13h-3v-1h-1v1h-1v-1h-1v1h-2v-10h-1v-1h-1v-1h-1v14h-2v-1h-3v-1h-1v1h-1v-11h-1v-1h-1v1h-1v11h-1v-2h-6v-1h-1v-10h-2v-1h-1v15h-1v1h-1v-2h-1v1h-3v-1h-1v-1h-1v-10h-2v-1h-1v11h-3v-1h-3v-1h-1v-10h-1v-1h-2v17h-1v-1h-2v-1h-2v1h-2v-1h-1v-11h-3v11h-2v-1h-4v-1h-1v-1h-1v-10h-3v10h-2v1h-2v-1h-2v-1h-1v-9h-2v-1h-1v14h-2v-1h-1v-1h-5v-10h-1v-1h-2v13h-3v-1h-3v1h-1v-1h-1v-10h-1v-1h-2v9h-5v-1h-2v-1h-1v-9h-2v-1h-1v13h-2v-1h-4v-1h-1v-10h-2v1h-1v12h-2v-2h-1v1h-2v-2h-3v-10h-1v-1h-2v17h-1v1h-1v-1h-3v-1h-2v-1h-1v-9h-1v-1h-2v9h-3v-1h-4v-11h-1v-1h-1v1h-1v15h-2v-1h-3v-1h-3v-10h-1v-1h-2v14h-3v-1h-2v-1h-1v1h-1v-2h-1v-10h-3v9h-3v-2h-1v1h-3v-10h-1v-1h-1v-1h-1v16h-1v-1h-1v1h-2v-1h-3v-1h-1v-10h-2v-1h-1v14h-1v-1h-6v-1h-1v-10h-1v-1h-1v1h-1v12h-2v-1h-3v-1h-1v-1h-2v-10h-2v-1h-1v9h-3v-1h-4v-10h-3v17h-1v-1h-2v-1h-2v-1h-1v1h-1v-1h-1v-10h-1v-1h-2v10h-1v1h-1v-1h-2v-1h-1v1h-1v-1h-1v-1h-1v-10h-3v14h-6v-1h-1v-10h-1v-1h-2v10h-2v-1h-4v-1h-2v-10h-3v15h-2v-1h-1v1h-1v-1h-1v1h-1v-1h-2v-10h-2v-1h-1v8h-1v1h-1v-2h-5v-10h-3v12h-2v-1h-1v1h-3v-1h-1v-1h-1v-10h-3v13h-4v-1h-2v-1h-2v-10h-2v1h-1v14h-2v-1h-3v1h-1v-1h-2v-10h-2v-1h-1v9h-4v-1h-2v1h-1v-10h-1v-1h-2v15h-2v-1h-3v-2h-2v1h-1v-12h-3v13h-1v-1h-1v-1h-2v1h-3v-2h-1v-10h-2v1h-1v11h-1v-1h-2v-1h-4v-10h-1v-1h-2v16h-1v-1h-5v-1h-2v-10h-1v-1h-2v8h-4v1h-1v-1h-2v-1h-1v-10h-1v-1h-1v1h-1v12h-2v1h-1v-1h-1v-1h-2v1h-1v-11h-1v-1h-2v16h-3v-1h-3v1h-1v-1h-1v-10h-3v9h-3v-1h-2v-1h-1v1h-2v-11h-2v-1h-1v14h-4v-1h-4v-10h-1v-1h-1v-1h-1v12h-5v-1h-2v-11h-3v14h-6v-1h-2v-10h-1v-1h-1v-1h-1v13h-2v-1h-1v1h-3v-1h-1v-1h-1v-11h-3v16h-2v-1h-1v1h-1v-1h-3v-11h-1v-1h-2v12h-3v-1h-2v-1h-1v1h-1v-1h-1v-11h-3v12h-1v-1h-6v-1h-1v-10h-1v-1h-2v17h-2v-1h-2v-1h-1v1h-1v-1h-1v-10h-1v-1h-2v13h-5v-1h-2v-1h-1v-10h-2v-1h-1v9h-8v-12h-3v14h-8v-11h-3v13h-1v-1h-1v-1h-1v1h-1v-1h-3v-11h-3v12h-2v-1h-1v-1h-1v1h-3v-1h-1v-9h-1v-1h-2v12h-8v-10h-3v14h-1v1h-5v-1h-1v-9h-1v-1h-2v9h-6v-1h-2v-9h-1v-1h-2v17h-3v-1h-5v-10h-2v-1h-1v13h-6v-1h-1v-10h-2v-1h-1v15h-1v1h-1v-1h-4v-1h-2v-10h-1v-1h-1v1h-1v9h-1v-1h-7v-11h-2v-1h-1v14h-4v-1h-1v1h-2v-1h-1v-12h-3v18h-3v-1h-3v-1h-1v-10h-3v13h-1v1h-3v-1h-4v-11h-3v12h-3v-1h-3v1h-2v-12h-3v16h-1v1h-4v1h-2v-12h-1v-1h-2v19h-1v-1h-3v1h-4v-12h-1v-1h-2v15h-4v-1h-4v-13h-2v1h-1v17h-3v-1h-1v-1h-3v-11h-3v11h-1v-1h-1v1h-2v-1h-4v-9h-1v-1h-1v1h-1v11h-1v1h-1v1h-2v1h-2v1h-1v2h-1v-11h-3v20h-1v1h-1v1h-2v-1h-2v2h-2v-15h-1v1h-1v1h-1v14h-1v2h-1v-1h-1v2h-1v1h-1v1h-1v-1h-1v-14h-2v2h-1v27h-1v1h-5v1h-2v-14h-3v13h-2v1h-2v-1h-2v-1h-2v-15h-1v-1h-2v21h-1v-1h-1v1h-1v1h-1v1h-2v1h-1v-13h-1v2h-1v1h-1v18h-1v2h-1v2h-1v2h-1v4h-1v4h-1v3h-1v3h-1v-12h-1v2h-1v3h-1v23h-1v3h-1v3h-1v2h-1v3h-1v3h-1v1h-1v4h-1v-12h-1v3h-1v2h-1v21h-1v1h-1v1h-2v1h-1v2h-1v4h-1v-10h-1v5h-1v4h-1v24h-1v9h-1v15h-1v16h-1v16h-1v14h-1v15h-1v12h-2v15h-1v15h-1v38h-1v27h-1v42h-1v113h-4z"/>
<path fill="#ff0000" d="M463.0 2041h3v-429h1v-14h1v-11h1v-9h1v-4h1v-4h1v-4h1v-3h1v-5h1v-2h1v-3h1v7h1v-1h1v-2h1v-15h1v-1h2v-1h2v-2h2v1h1v8h1v1h2v-14h2v1h3v1h2v2h1v7h1v1h2v-13h1v1h1v1h1v1h1v1h2v1h1v9h1v1h1v1h1v-13h1v1h2v1h1v1h3v1h1v7h1v2h1v-1h1v-13h2v1h2v-1h1v-1h2v-1h1v8h1v-1h2v-13h1v-1h1v1h5v8h1v1h2v-14h3v1h1v-1h1v1h1v-1h2v9h1v1h2v-12h1v1h1v-2h1v1h1v2h4v9h3v-13h1v1h1v1h2v-1h1v2h2v7h2v-2h1v-9h1v-1h1v2h1v-1h3v-1h1v1h1v6h2v-1h1v-10h5v-2h1v1h1v-1h1v8h1v-1h2v-11h2v1h6v7h3v-12h3v-1h2v1h2v8h1v1h2v-12h1v-1h1v1h2v1h4v8h2v1h1v-11h7v1h1v6h2v1h1v-11h4v1h1v-1h2v8h2v-1h1v-10h2v-1h2v1h1v1h3v8h2v-1h1v-10h2v1h3v1h3v7h3v-9h3v-1h2v1h2v8h3v-10h1v1h3v-1h1v1h1v1h2v7h2v-1h1v-10h2v1h1v1h2v-1h1v1h2v7h3v-9h1v1h7v6h3v-8h1v-1h1v1h5v7h1v-1h2v-9h1v1h1v1h4v-1h1v1h1v6h3v-9h1v1h2v1h1v-2h3v1h1v6h1v1h1v1h1v-9h7v6h1v1h2v-8h1v-1h2v1h1v1h2v-1h1v1h1v7h2v-1h1v-9h4v1h4v8h3v-10h2v1h1v1h1v-2h1v1h2v7h3v-9h6v1h1v1h1v6h3v-9h3v1h1v1h1v-1h3v8h3v-8h2v-1h3v1h1v1h1v-1h1v7h2v1h1v-11h1v2h3v1h3v7h2v1h1v-9h2v-2h1v1h1v1h2v1h1v-1h1v7h1v1h2v-9h3v1h2v-1h2v1h1v7h3v-10h1v2h5v1h1v6h1v2h2v-11h3v1h1v1h2v1h2v6h2v1h1v-10h1v1h3v1h2v1h2v6h2v1h1v-9h1v-1h3v1h1v1h1v-1h1v8h2v1h1v-10h1v-1h2v1h2v1h1v1h2v7h3v-10h4v1h2v2h2v7h1v-1h1v1h1v-9h1v-1h3v2h4v7h3v-10h1v1h4v2h2v7h3v-10h2v1h1v1h2v1h3v6h2v1h1v-9h2v-1h1v1h2v1h3v8h2v-1h1v-9h3v1h1v1h3v7h3v-9h3v1h5v7h3v-8h3v1h1v1h1v-2h2v1h1v7h2v1h1v-9h4v2h1v-1h2v6h1v1h2v-8h3v-1h1v2h4v7h2v1h1v-9h3v-1h1v2h4v7h3v-9h5v2h1v-1h2v6h1v2h2v-9h1v1h1v-1h1v1h4v7h1v-1h1v1h1v-8h2v1h1v-1h3v2h2v6h3v-9h2v1h4v1h2v7h1v1h2v-10h1v1h3v1h3v6h3v-8h2v1h5v2h1v7h2v-1h1v-9h1v1h4v1h2v1h1v5h3v-8h1v1h2v1h2v1h1v-1h1v6h2v1h1v-9h3v1h1v1h2v-1h2v7h1v1h1v1h1v-9h2v1h2v-1h2v1h2v6h2v2h1v-9h3v1h1v-2h1v1h1v1h2v7h2v-1h1v-8h1v1h2v1h2v-2h1v1h1v8h1v-1h2v-8h1v1h3v1h2v-1h2v7h3v-8h2v1h2v1h4v7h1v-1h2v-9h1v2h1v-1h2v1h3v7h3v-8h1v-1h1v2h6v7h1v1h2v-9h3v1h1v-1h1v2h3v7h2v-1h1v-8h1v-1h3v1h2v1h1v7h2v1h1v-9h1v-1h1v1h5v2h1v7h1v-1h2v-9h1v1h1v1h2v-1h2v1h1v-1h1v7h1v1h2v-8h1v1h7v7h1v1h2v-9h1v-1h2v2h4v6h2v1h1v-9h1v1h3v1h4v7h3v-10h1v1h2v2h4v-1h1v7h3v-7h3v-1h2v1h1v1h1v7h3v-8h1v-2h1v1h1v1h1v-1h1v1h1v1h2v7h3v-9h3v1h3v1h2v6h2v1h1v-9h4v1h1v1h2v7h3v-8h7v1h1v7h1v-1h2v-8h1v1h2v-1h1v1h1v-1h1v1h1v1h1v7h1v-1h2v-9h1v1h2v2h4v1h1v6h3v-9h3v1h2v1h1v-1h1v7h1v1h2v-9h5v1h2v1h1v7h3v-8h1v-2h2v2h2v1h2v-1h1v7h3v-9h1v2h3v-1h1v1h2v7h3v-7h1v-2h1v2h5v1h1v6h3v-9h2v1h3v1h3v7h3v-9h2v2h2v1h2v-1h1v7h3v-9h2v1h5v1h1v6h2v1h1v-8h4v1h3v1h1v6h3v-8h1v-1h2v2h4v1h1v6h2v1h1v-8h1v-1h3v1h3v6h1v1h2v-9h2v1h1v1h4v1h1v7h1v-1h1v1h1v-9h2v1h4v1h2v7h2v-1h1v-9h2v1h2v1h1v1h2v6h2v1h1v-9h2v1h3v1h2v-1h1v7h2v1h1v-10h3v2h3v1h2v7h1v-1h1v1h1v-9h3v1h1v-1h2v2h1v6h1v1h2v-9h1v-1h2v1h1v1h4v7h3v-9h1v1h2v1h2v1h1v-2h1v1h1v7h2v1h1v-10h2v1h2v1h1v1h2v-1h1v7h3v-9h1v1h2v1h4v7h3v-9h2v1h2v1h1v1h3v7h3v-10h1v1h2v-1h1v1h2v1h2v7h1v-1h1v1h1v-9h1v2h4v1h1v-2h1v7h1v2h2v-9h2v-1h1v1h2v1h1v1h2v7h3v-9h2v1h1v-2h1v2h1v1h1v-2h1v1h1v6h1v1h2v-9h1v1h1v-1h2v1h1v1h1v1h1v5h1v1h2v-8h2v1h6v7h1v1h2v-9h1v-1h1v1h1v-1h1v2h4v7h3v-9h1v1h6v1h1v6h1v1h1v1h1v-9h2v1h1v-2h1v2h1v-1h1v1h1v7h2v1h1v-9h2v1h1v-2h1v1h2v1h2v6h2v1h1v-10h1v1h3v1h1v1h3v6h3v-7h2v1h5v7h2v1h1v-9h1v-2h1v1h2v2h4v7h3v-9h3v1h2v1h2v-1h1v7h3v-9h1v1h1v1h2v1h2v1h1v6h3v-8h7v1h1v7h3v-8h6v1h2v6h1v1h2v-9h3v1h3v2h2v7h2v-1h1v-10h2v1h2v2h3v7h3v-8h7v1h1v6h1v1h1v1h1v-9h2v-1h3v1h2v1h1v7h1v1h2v-10h5v1h2v7h3v-8h3v1h3v1h2v7h1v1h2v-10h2v1h4v1h2v6h1v1h1v1h1v-10h1v-1h1v1h1v1h1v1h3v7h1v1h1v-1h1v-9h1v1h2v-1h1v1h2v1h2v7h2v1h1v-9h1v-1h2v1h1v1h1v-1h1v1h2v8h1v-1h1v1h1v-11h3v2h5v7h3v-8h4v1h1v-1h1v1h1v7h1v1h2v-9h1v1h7v7h1v1h1v1h1v-10h2v1h3v1h3v6h2v1h1v-10h1v1h2v1h2v1h2v7h1v-1h2v-8h2v-1h1v1h1v1h1v1h1v-2h1v1h1v8h3v-9h6v2h2v6h1v1h1v1h1v-10h4v1h2v1h1v7h3v-10h3v1h1v1h4v7h1v2h2v-9h1v-2h3v2h1v-1h1v2h2v8h3v-9h1v-1h2v1h2v1h2v-1h1v8h2v1h1v-10h4v1h2v1h1v6h2v1h1v-9h2v-1h1v1h2v2h3v6h3v-8h2v1h3v-1h2v1h1v8h1v1h2v-10h1v1h5v-1h1v7h1v2h2v-10h2v1h1v1h4v1h1v7h3v-10h2v2h6v7h3v-8h3v1h2v12h-3v12h-3v-1h-2v-1h-1v1h-2v-11h-2v-1h-1v14h-3v-1h-1v1h-1v-1h-2v-10h-1v-1h-2v12h-4v-1h-3v-1h-1v-10h-2v-1h-1v12h-2v1h-1v-1h-4v-1h-1v-10h-2v-1h-1v14h-3v-1h-4v-10h-1v-1h-1v-1h-1v9h-1v1h-1v-1h-3v-1h-3v-10h-1v-1h-2v13h-2v1h-2v-2h-3v-1h-1v-10h-1v1h-2v12h-2v-1h-2v-1h-3v-10h-2v-1h-1v13h-1v-1h-1v1h-2v-1h-3v-1h-1v-10h-3v13h-1v-1h-2v-1h-1v1h-2v-1h-2v-10h-3v10h-1v-1h-4v-2h-3v-10h-3v14h-1v-1h-3v1h-1v-1h-2v-11h-2v-1h-1v15h-3v-1h-1v-1h-2v1h-2v-10h-1v-1h-2v10h-1v-1h-6v-2h-1v-10h-3v14h-1v1h-2v-2h-4v-10h-3v10h-3v-1h-4v-1h-1v-10h-3v15h-2v-1h-2v-1h-4v-10h-1v-1h-2v11h-2v-2h-4v1h-1v-11h-3v12h-1v-1h-2v-1h-3v-1h-2v-10h-1v1h-1v-1h-1v12h-1v-1h-3v-1h-3v-1h-1v-10h-3v14h-4v-1h-1v1h-2v-1h-1v-10h-3v9h-1v-1h-2v1h-1v-1h-3v-10h-3v12h-3v-1h-3v-1h-2v-10h-1v-1h-2v12h-4v-1h-2v1h-1v-1h-1v-9h-2v-1h-1v12h-2v-1h-2v-1h-3v-10h-1v-1h-2v13h-1v-1h-3v-1h-2v1h-1v-1h-1v-10h-2v-1h-1v15h-6v-2h-1v2h-1v-10h-2v-2h-1v11h-1v-1h-1v1h-4v-1h-1v-10h-2v-1h-1v13h-2v-1h-1v1h-2v-1h-3v-10h-3v11h-2v-1h-1v-1h-5v-11h-3v10h-2v-1h-2v1h-1v-1h-1v-1h-2v-10h-3v11h-3v-1h-1v1h-1v-1h-2v-10h-2v-1h-1v16h-2v-1h-3v-1h-3v-10h-3v9h-2v1h-2v-1h-3v-2h-1v-9h-3v12h-2v-2h-1v1h-1v-1h-2v-1h-1v-9h-1v-1h-1v1h-1v11h-1v1h-2v-1h-2v-1h-3v-9h-1v-1h-2v14h-2v-1h-2v1h-1v-2h-2v1h-1v-10h-2v-1h-1v9h-3v-1h-2v-1h-2v-9h-3v10h-3v1h-1v-1h-3v-2h-1v-8h-2v-1h-1v13h-3v-1h-3v1h-2v-11h-2v-1h-1v13h-1v-1h-1v1h-2v-1h-4v-10h-3v9h-3v-2h-2v1h-2v-10h-1v-1h-1v1h-1v14h-2v-2h-2v1h-1v-1h-3v-10h-2v-1h-1v12h-4v-1h-3v-1h-1v-9h-3v12h-4v-1h-1v-1h-2v-9h-3v7h-2v-1h-4v-1h-1v1h-1v-10h-3v15h-1v-1h-3v-1h-1v-1h-1v1h-2v-10h-3v11h-1v-1h-1v-1h-1v1h-1v-1h-3v-9h-1v-2h-2v11h-1v-1h-7v-9h-1v-1h-2v14h-1v-1h-5v-1h-1v1h-1v-10h-1v-1h-2v11h-2v-1h-6v-10h-1v-1h-2v13h-1v-1h-3v-1h-3v-9h-3v8h-2v-1h-3v-1h-3v-10h-1v-1h-2v15h-1v-1h-3v1h-2v-2h-2v-9h-2v-1h-1v10h-1v1h-1v-1h-4v-1h-1v-10h-1v-1h-2v15h-1v1h-1v-1h-2v-1h-1v-1h-1v1h-1v-1h-1v-9h-3v11h-1v-1h-3v-1h-4v-9h-1v-1h-1v1h-1v9h-5v-1h-1v1h-1v-10h-2v-1h-1v11h-1v-1h-2v-1h-5v-10h-1v1h-1v-1h-1v12h-1v-1h-2v-1h-1v1h-1v-1h-3v-10h-1v-1h-2v14h-1v-1h-1v1h-1v-1h-1v-1h-2v1h-2v-9h-1v-1h-2v8h-5v-1h-2v-9h-1v-1h-2v11h-2v1h-1v-1h-2v-1h-2v-1h-1v-9h-1v-1h-2v17h-2v-1h-4v-1h-1v1h-1v-10h-2v-1h-1v8h-2v-1h-3v-1h-2v-9h-3v14h-3v-1h-4v-1h-1v-9h-1v-1h-2v10h-4v-1h-2v-1h-2v-9h-3v12h-1v-1h-6v-10h-1v-1h-2v10h-1v-1h-4v-1h-3v-10h-2v-1h-1v14h-1v-1h-4v-1h-2v1h-1v-10h-1v-1h-2v12h-3v-1h-5v-11h-3v13h-1v-1h-6v-10h-1v-1h-2v10h-3v-1h-2v-1h-2v1h-1v-10h-1v1h-1v-2h-1v14h-7v-1h-1v-9h-2v-1h-1v9h-3v-1h-3v-1h-1v-8h-1v-2h-1v1h-1v15h-1v-1h-3v-1h-4v-9h-2v-1h-1v10h-1v-1h-2v1h-1v-1h-4v-9h-1v-1h-2v9h-1v1h-1v-1h-1v-1h-1v1h-1v-1h-2v-10h-3v13h-1v-1h-3v-1h-2v1h-1v-1h-1v-10h-1v1h-1v-1h-1v12h-2v-1h-2v1h-2v-2h-1v1h-1v-9h-1v-1h-2v9h-2v-1h-1v1h-1v-2h-2v1h-2v-10h-1v-1h-2v12h-1v1h-2v-1h-2v-1h-1v-1h-1v-9h-3v12h-1v-1h-5v-1h-2v-10h-2v-1h-1v16h-5v-1h-1v1h-1v-1h-1v-10h-1v-1h-2v10h-1v-1h-2v-1h-3v-1h-1v-9h-1v-1h-2v15h-1v-1h-1v1h-2v-1h-3v-1h-1v-9h-3v12h-2v-1h-5v-1h-1v-9h-2v-1h-1v8h-3v-1h-1v-1h-2v1h-1v-9h-1v-1h-2v14h-3v-1h-1v-1h-3v-1h-1v-8h-1v-1h-1v-1h-1v13h-1v1h-3v-2h-2v1h-2v-11h-3v11h-3v-1h-1v1h-1v-1h-3v-9h-2v-1h-1v7h-1v1h-3v-1h-1v-1h-2v-9h-3v15h-5v-2h-3v-9h-2v-1h-1v9h-4v1h-1v-1h-3v-10h-1v-1h-2v13h-1v1h-1v-1h-2v-1h-1v1h-1v-1h-1v-9h-3v8h-1v-1h-2v1h-2v-1h-1v-1h-2v-10h-3v15h-2v-1h-1v1h-1v-1h-1v1h-1v-1h-2v-9h-1v-1h-1v-1h-1v9h-3v-1h-1v-1h-3v-8h-1v-1h-2v12h-1v-1h-1v1h-2v-1h-1v-1h-2v-1h-1v-9h-2v-1h-1v13h-3v-1h-4v-1h-1v-9h-2v-1h-1v15h-4v-1h-4v-10h-1v-1h-1v2h-1v8h-3v-1h-1v1h-1v-1h-2v-11h-3v15h-1v-1h-5v-1h-1v-1h-1v-9h-3v11h-3v-1h-5v-10h-1v-2h-2v11h-1v1h-1v-1h-2v-1h-2v-1h-1v-9h-1v-1h-2v15h-1v1h-3v-1h-4v-10h-1v-1h-2v9h-2v-1h-2v-1h-4v-11h-3v13h-1v-1h-4v-1h-1v1h-1v-10h-2v-1h-1v16h-2v-1h-1v-1h-1v1h-2v-1h-2v-10h-3v10h-1v-1h-6v-1h-1v-10h-2v-1h-1v13h-6v-1h-2v-10h-3v11h-2v-1h-3v-1h-2v-10h-2v-1h-1v14h-6v-1h-2v-10h-2v-1h-1v12h-3v-1h-1v1h-2v-1h-2v-10h-1v-1h-2v16h-2v-1h-1v-1h-1v-1h-2v1h-1v-11h-1v1h-1v-1h-1v11h-1v-1h-7v-10h-1v-1h-1v1h-1v10h-2v-1h-2v1h-1v-1h-1v-1h-2v-10h-1v1h-2v15h-1v-1h-3v-1h-3v-10h-3v11h-7v-1h-1v-10h-3v9h-2v-1h-2v-1h-1v1h-1v-1h-2v-10h-2v-1h-1v14h-2v1h-2v-1h-4v-10h-3v12h-2v-2h-2v1h-1v-1h-2v-9h-1v-1h-2v11h-5v-1h-2v-1h-1v-9h-2v-1h-1v12h-1v1h-3v-1h-3v-1h-1v-9h-1v1h-2v13h-1v1h-6v-10h-3v9h-4v-1h-3v-1h-1v-9h-1v1h-2v15h-1v-1h-2v1h-3v-1h-1v-1h-1v-8h-1v-1h-2v12h-5v-1h-2v-9h-3v14h-2v-1h-2v-1h-4v-9h-2v-1h-1v9h-6v-1h-2v-11h-2v1h-1v13h-1v-1h-7v-11h-1v-1h-2v17h-2v-1h-5v-11h-3v13h-2v1h-2v-1h-1v-1h-3v-10h-1v1h-2v11h-7v-1h-1v-9h-1v1h-1v-1h-1v15h-2v1h-3v-1h-1v1h-1v-12h-1v1h-1v-1h-1v18h-4v-1h-4v-12h-3v14h-2v1h-2v-1h-1v1h-3v-12h-3v16h-1v-1h-1v-1h-1v1h-4v-11h-3v10h-5v-1h-3v-9h-1v1h-2v10h-1v1h-2v2h-1v1h-1v1h-3v-9h-2v1h-1v19h-4v2h-1v-2h-2v1h-1v-13h-2v2h-1v14h-2v1h-1v2h-2v1h-2v-14h-1v1h-2v27h-4v2h-4v-14h-3v14h-5v-1h-1v-1h-2v-15h-3v20h-1v-2h-1v1h-1v1h-1v2h-1v1h-1v1h-1v-13h-1v2h-1v1h-1v18h-1v1h-1v1h-1v3h-1v4h-1v3h-1v3h-1v4h-1v-11h-1v1h-1v3h-1v23h-1v2h-1v3h-1v3h-1v2h-1v3h-1v4h-1v2h-1v-11h-1v2h-1v3h-1v21h-1v1h-1v1h-1v1h-1v1h-1v2h-1v3h-1v-10h-1v4h-1v3h-1v24h-1v10h-1v17h-1v15h-1v16h-1v14h-1v12h-1v13h-1v2h-1v15h-1v15h-1v37h-1v27h-1v42h-1v114h-6z"/>
<rect x="490.8" y="36.6" width="1659.4" height="99.4" fill="#fff" stroke="#000" stroke-width="3.6"/>
<path d="M827.5 38V43" stroke="#000" stroke-width="3"/>
<path d="M498 94.4H655" stroke="#0000ff" stroke-width="3" stroke-linecap="round"/>
<path d="M1380 86.4H1539" stroke="#ff0000" stroke-width="2.8" stroke-linecap="round"/>
<rect x="1011" y="1626" width="1000" height="264" fill="#fff" stroke="#000" stroke-width="3.8"/>
<path d="M1213.8 1628V1640" stroke="#000" stroke-width="3" stroke-linecap="round"/>
<path d="M1025 1726H1199" stroke="#0000ff" stroke-width="3.7" stroke-linecap="round"/>
<path d="M1025 1821.2H1216" stroke="#ff0000" stroke-width="3.1" stroke-linecap="round"/>
<g font-family="'Liberation Serif', 'Noto Serif CJK SC', serif" font-size="100">
<g transform="matrix(0.7722 0 0 0.7206 169.49 66.28)"><text x="0" y="0" fill="#262626">600</text></g>
<g transform="matrix(0.7722 0 0 0.7206 169.61 194.56)"><text x="0" y="0" fill="#262626">400</text></g>
<g transform="matrix(0.7722 0 0 0.7206 169.24 320.56)"><text x="0" y="0" fill="#262626">200</text></g>
<g transform="matrix(0.7722 0 0 0.7206 196.95 449.56)"><text x="0" y="0" fill="#262626">0</text></g>
<g transform="matrix(0.7722 0 0 0.7206 157.11 578.41)"><text x="0" y="0" fill="#262626">-200</text></g>
<g transform="matrix(0.7722 0 0 0.7206 157.11 703.56)"><text x="0" y="0" fill="#262626">-400</text></g>
<g transform="matrix(0.7722 0 0 0.7206 157.36 832.66)"><text x="0" y="0" fill="#262626">-600</text></g>
<g transform="matrix(0.7689 0 0 0.7090 348.01 885.19)"><text x="0" y="0" fill="#262626">2</text></g>
<g transform="matrix(0.7689 0 0 0.7090 738.72 885.14)"><text x="0" y="0" fill="#262626">2.05</text></g>
<g transform="matrix(0.7689 0 0 0.7090 1207.71 885.19)"><text x="0" y="0" fill="#262626">2.1</text></g>
<g transform="matrix(0.7689 0 0 0.7090 1641.92 885.49)"><text x="0" y="0" fill="#262626">2.15</text></g>
<g transform="matrix(0.7689 0 0 0.7090 2083.53 885.19)"><text x="0" y="0" fill="#262626">2.2</text></g>
<g transform="matrix(0.7723 0 0 0.7089 1117.16 975.71)"><text x="0" y="0" fill="#000000">Time (s)</text></g>
<g transform="matrix(0.7641 0 0 0.7159 667.00 116.30)"><text x="0" y="0" fill="#262626">without external noise</text></g>
<g transform="matrix(0.7623 0 0 0.7101 1555.30 108.00)"><text x="0" y="0" fill="#262626">with external noise</text></g>
<g transform="matrix(0.8311 0 0 0.8064 530.68 1103.70)"><text x="0" y="0" fill="#000000">(<tspan font-weight="bold">a</tspan>) Waveform of the input current.</text></g>
<g transform="matrix(0.7853 0 0 0.6997 76.63 618.50)"><text x="0" y="0" transform="rotate(-90)" fill="#000000">Current</text></g>
<g transform="matrix(0.6247 0 0 0.6655 73.38 408.26)"><text x="0" y="0" transform="rotate(-90)" fill="#000000">（</text></g>
<g transform="matrix(0.7894 0 0 0.7056 77.00 336.01)"><text x="0" y="0" transform="rotate(-90)" fill="#000000">A</text></g>
<g transform="matrix(0.6462 0 0 0.7000 73.18 278.40)"><text x="0" y="0" transform="rotate(-90)" fill="#000000">）</text></g>
<g transform="matrix(0.8709 0 0 0.7654 270.43 1323.04)"><text x="0" y="0" fill="#262626">4000</text></g>
<g transform="matrix(0.8709 0 0 0.7654 269.77 1511.59)"><text x="0" y="0" fill="#262626">3000</text></g>
<g transform="matrix(0.8709 0 0 0.7654 269.56 1702.22)"><text x="0" y="0" fill="#262626">2000</text></g>
<g transform="matrix(0.8709 0 0 0.7654 271.98 1889.72)"><text x="0" y="0" fill="#262626">1000</text></g>
<g transform="matrix(0.8709 0 0 0.7654 342.20 2077.22)"><text x="0" y="0" fill="#262626">0</text></g>
<g transform="matrix(0.8667 0 0 0.7697 456.08 2129.23)"><text x="0" y="0" fill="#262626">0</text></g>
<g transform="matrix(0.8667 0 0 0.7697 669.23 2129.23)"><text x="0" y="0" fill="#262626">0.5</text></g>
<g transform="matrix(0.8667 0 0 0.7697 985.33 2130.00)"><text x="0" y="0" fill="#262626">1</text></g>
<g transform="matrix(0.8667 0 0 0.7697 1219.07 2129.62)"><text x="0" y="0" fill="#262626">1.5</text></g>
<g transform="matrix(0.8667 0 0 0.7697 1522.82 2129.27)"><text x="0" y="0" fill="#262626">2</text></g>
<g transform="matrix(0.8667 0 0 0.7697 1759.93 2129.62)"><text x="0" y="0" fill="#262626">2.5</text></g>
<g transform="matrix(0.8667 0 0 0.7697 2056.30 2129.62)"><text x="0" y="0" fill="#262626">3</text></g>
<g transform="matrix(0.8723 0 0 0.7589 1077.26 2226.16)"><text x="0" y="0" fill="#000000">Time (s)</text></g>
<g transform="matrix(0.8666 0 0 0.7580 1231.30 1747.00)"><text x="0" y="0" fill="#262626">without external noise</text></g>
<g transform="matrix(0.8658 0 0 0.7565 1305.90 1836.00)"><text x="0" y="0" fill="#262626">with external noise</text></g>
<g transform="matrix(0.8186 0 0 0.7988 528.83 2356.40)"><text x="0" y="0" fill="#000000">(<tspan font-weight="bold">b</tspan>) Waveforms of DC-link voltage.</text></g>
<g transform="matrix(0.8889 0 0 0.7963 214.23 1879.50)"><text x="0" y="0" transform="rotate(-90)" fill="#000000">Voltage</text></g>
<g transform="matrix(0.7237 0 0 0.7241 209.69 1641.97)"><text x="0" y="0" transform="rotate(-90)" fill="#000000">（</text></g>
<g transform="matrix(0.8836 0 0 0.7514 213.33 1562.95)"><text x="0" y="0" transform="rotate(-90)" fill="#000000">V</text></g>
<g transform="matrix(0.7344 0 0 0.7276 209.59 1502.37)"><text x="0" y="0" transform="rotate(-90)" fill="#000000">）</text></g>
</g>
</svg></body></html>
